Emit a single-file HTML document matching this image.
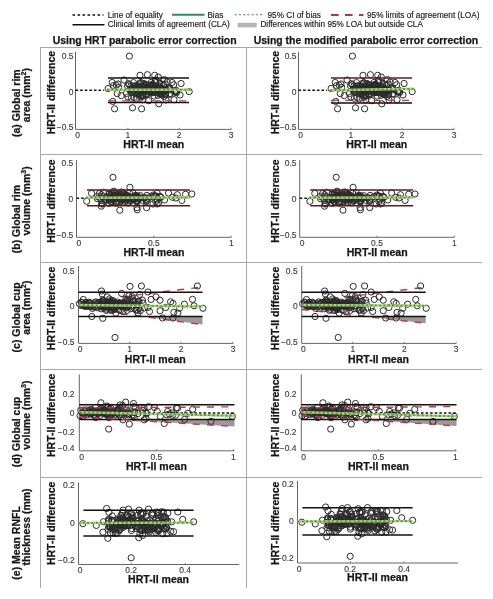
<!DOCTYPE html><html><head><meta charset="utf-8"><style>html,body{margin:0;padding:0;background:#fff;width:493px;height:599px;overflow:hidden}svg{display:block;filter:blur(0.5px)}text{font-family:"Liberation Sans",sans-serif}</style></head><body>
<svg width="493" height="599" viewBox="0 0 493 599">
<g stroke="#a8a8a8" stroke-width="1" fill="none">
<line x1="40" y1="47.5" x2="482" y2="47.5"/>
<line x1="40" y1="154.5" x2="482" y2="154.5"/>
<line x1="40" y1="262.5" x2="482" y2="262.5"/>
<line x1="40" y1="369.5" x2="482" y2="369.5"/>
<line x1="40" y1="477.5" x2="482" y2="477.5"/>
<line x1="40.5" y1="47" x2="40.5" y2="588"/>
<line x1="246.5" y1="47" x2="246.5" y2="588"/>
</g>
<g font-size="8.22" fill="#1a1a1a">
<line x1="72.5" y1="15" x2="103.5" y2="15" stroke="#111" stroke-width="1.6" stroke-dasharray="2.6,2.4"/>
<text stroke="#1a1a1a" stroke-width="0.15" x="107.7" y="17.6">Line of equality</text>
<line x1="172" y1="14.8" x2="204.5" y2="14.8" stroke="#2e8b57" stroke-width="1.9"/>
<text stroke="#1a1a1a" stroke-width="0.15" x="207.4" y="17.6">Bias</text>
<line x1="234.5" y1="14.8" x2="263.5" y2="14.8" stroke="#3a9a6a" stroke-width="1.1" stroke-dasharray="2.3,1.95"/>
<text stroke="#1a1a1a" stroke-width="0.15" x="267.5" y="17.6">95% CI of bias</text>
<line x1="331" y1="15" x2="363.5" y2="15" stroke="#b83444" stroke-width="1.9" stroke-dasharray="7.6,6.4"/>
<text stroke="#1a1a1a" stroke-width="0.15" x="367" y="17.6">95% limits of agreement (LOA)</text>
<line x1="72.5" y1="24.8" x2="104.5" y2="24.8" stroke="#111" stroke-width="1.6"/>
<text stroke="#1a1a1a" stroke-width="0.15" x="107.7" y="27.4">Clinical limits of agreement (CLA)</text>
<rect x="237.7" y="22.8" width="19" height="4.6" fill="#b4b4b4"/>
<text stroke="#1a1a1a" stroke-width="0.15" x="260.4" y="27.4">Differences within 95% LOA but outside CLA</text>
</g>
<g font-size="10.45" font-weight="bold" fill="#161616" stroke="#161616" stroke-width="0.25">
<text x="52.7" y="44.2">Using HRT parabolic error correction</text>
<text x="253.7" y="44.2">Using the modified parabolic error correction</text>
</g>
<text transform="translate(20.2,103.15) rotate(-90)" text-anchor="middle" font-size="10.5" font-weight="bold" fill="#161616" stroke="#161616" stroke-width="0.25">(a) Global rim</text>
<text transform="translate(29.6,95.15) rotate(-90)" text-anchor="middle" font-size="10.5" font-weight="bold" fill="#161616" stroke="#161616" stroke-width="0.25">area (mm<tspan font-size="7" dy="-4">2</tspan><tspan dy="4">)</tspan></text>
<text transform="translate(20.2,219.1) rotate(-90)" text-anchor="middle" font-size="10.5" font-weight="bold" fill="#161616" stroke="#161616" stroke-width="0.25">(b) Global rim</text>
<text transform="translate(29.6,200.95) rotate(-90)" text-anchor="middle" font-size="10.5" font-weight="bold" fill="#161616" stroke="#161616" stroke-width="0.25">volume (mm<tspan font-size="7" dy="-4">3</tspan><tspan dy="4">)</tspan></text>
<text transform="translate(20.2,317.4) rotate(-90)" text-anchor="middle" font-size="10.5" font-weight="bold" fill="#161616" stroke="#161616" stroke-width="0.25">(c) Global cup</text>
<text transform="translate(29.6,307.65) rotate(-90)" text-anchor="middle" font-size="10.5" font-weight="bold" fill="#161616" stroke="#161616" stroke-width="0.25">area (mm<tspan font-size="7" dy="-4">2</tspan><tspan dy="4">)</tspan></text>
<text transform="translate(20.2,432.05) rotate(-90)" text-anchor="middle" font-size="10.5" font-weight="bold" fill="#161616" stroke="#161616" stroke-width="0.25">(d) Global cup</text>
<text transform="translate(29.6,415.15) rotate(-90)" text-anchor="middle" font-size="10.5" font-weight="bold" fill="#161616" stroke="#161616" stroke-width="0.25">volume (mm<tspan font-size="7" dy="-4">3</tspan><tspan dy="4">)</tspan></text>
<text transform="translate(20.2,542.9) rotate(-90)" text-anchor="middle" font-size="10.5" font-weight="bold" fill="#161616" stroke="#161616" stroke-width="0.25">(e) Mean RNFL</text>
<text transform="translate(29.6,526.95) rotate(-90)" text-anchor="middle" font-size="10.5" font-weight="bold" fill="#161616" stroke="#161616" stroke-width="0.25">thickness (mm)</text>
<g>
<text transform="translate(55.2,92.65) rotate(-90)" text-anchor="middle" font-size="10.5" font-weight="bold" fill="#161616" stroke="#161616" stroke-width="0.25">HRT-II difference</text>
<path d="M75.5 51.7 V129.4 H231.1" stroke="#666" stroke-width="1" fill="none"/>
<path d="M127.90 129.4 v-1.6 M179.20 129.4 v-1.6 M231.10 129.4 v-1.6" stroke="#666" stroke-width="0.8" fill="none"/>
<g font-size="8.5" fill="#383838" stroke="#383838" stroke-width="0.12">
<text x="73.50" y="58.55" text-anchor="end">0.5</text>
<text x="73.50" y="94.55" text-anchor="end">0</text>
<text x="73.50" y="129.95" text-anchor="end">−0.5</text>
<text x="77.60" y="138.25" text-anchor="middle">0</text>
<text x="127.90" y="138.25" text-anchor="middle">1</text>
<text x="179.20" y="138.25" text-anchor="middle">2</text>
<text x="231.10" y="138.25" text-anchor="middle">3</text>
</g>
<g fill="none" stroke="#2a2a2a" stroke-width="1.0">
<circle cx="158.1" cy="92.4" r="3.1"/>
<circle cx="152.4" cy="84.6" r="3.1"/>
<circle cx="148.6" cy="86.2" r="3.1"/>
<circle cx="154.6" cy="85.8" r="3.1"/>
<circle cx="161.6" cy="91.3" r="3.1"/>
<circle cx="176.6" cy="91.8" r="3.1"/>
<circle cx="160.3" cy="88.7" r="3.1"/>
<circle cx="142.5" cy="94.7" r="3.1"/>
<circle cx="152.2" cy="91.5" r="3.1"/>
<circle cx="154.2" cy="92.3" r="3.1"/>
<circle cx="128.4" cy="83.7" r="3.1"/>
<circle cx="152.9" cy="87.9" r="3.1"/>
<circle cx="146.3" cy="88.3" r="3.1"/>
<circle cx="162.0" cy="89.7" r="3.1"/>
<circle cx="152.3" cy="85.5" r="3.1"/>
<circle cx="158.1" cy="95.3" r="3.1"/>
<circle cx="157.6" cy="88.4" r="3.1"/>
<circle cx="133.8" cy="91.1" r="3.1"/>
<circle cx="155.1" cy="88.6" r="3.1"/>
<circle cx="135.2" cy="86.4" r="3.1"/>
<circle cx="152.2" cy="85.8" r="3.1"/>
<circle cx="146.0" cy="93.7" r="3.1"/>
<circle cx="139.2" cy="89.1" r="3.1"/>
<circle cx="156.9" cy="87.2" r="3.1"/>
<circle cx="129.8" cy="90.2" r="3.1"/>
<circle cx="159.9" cy="83.4" r="3.1"/>
<circle cx="144.7" cy="87.6" r="3.1"/>
<circle cx="165.1" cy="83.9" r="3.1"/>
<circle cx="145.5" cy="84.3" r="3.1"/>
<circle cx="136.1" cy="89.3" r="3.1"/>
<circle cx="144.1" cy="88.7" r="3.1"/>
<circle cx="139.3" cy="83.9" r="3.1"/>
<circle cx="160.3" cy="94.2" r="3.1"/>
<circle cx="148.3" cy="88.0" r="3.1"/>
<circle cx="165.3" cy="90.9" r="3.1"/>
<circle cx="152.0" cy="92.3" r="3.1"/>
<circle cx="137.4" cy="86.4" r="3.1"/>
<circle cx="149.9" cy="85.5" r="3.1"/>
<circle cx="149.0" cy="90.0" r="3.1"/>
<circle cx="155.9" cy="91.0" r="3.1"/>
<circle cx="131.1" cy="88.8" r="3.1"/>
<circle cx="153.0" cy="92.7" r="3.1"/>
<circle cx="161.2" cy="88.3" r="3.1"/>
<circle cx="146.2" cy="85.3" r="3.1"/>
<circle cx="142.7" cy="86.5" r="3.1"/>
<circle cx="132.1" cy="88.2" r="3.1"/>
<circle cx="161.4" cy="94.5" r="3.1"/>
<circle cx="152.6" cy="88.9" r="3.1"/>
<circle cx="152.9" cy="91.9" r="3.1"/>
<circle cx="155.5" cy="90.6" r="3.1"/>
<circle cx="146.1" cy="88.3" r="3.1"/>
<circle cx="176.5" cy="92.7" r="3.1"/>
<circle cx="137.8" cy="91.9" r="3.1"/>
<circle cx="139.1" cy="90.1" r="3.1"/>
<circle cx="142.4" cy="90.2" r="3.1"/>
<circle cx="142.0" cy="88.4" r="3.1"/>
<circle cx="155.0" cy="91.3" r="3.1"/>
<circle cx="126.4" cy="93.5" r="3.1"/>
<circle cx="142.4" cy="91.1" r="3.1"/>
<circle cx="148.1" cy="87.6" r="3.1"/>
<circle cx="161.9" cy="89.6" r="3.1"/>
<circle cx="148.7" cy="92.1" r="3.1"/>
<circle cx="140.5" cy="96.7" r="3.1"/>
<circle cx="165.3" cy="89.4" r="3.1"/>
<circle cx="150.2" cy="90.0" r="3.1"/>
<circle cx="158.8" cy="90.9" r="3.1"/>
<circle cx="139.5" cy="86.1" r="3.1"/>
<circle cx="163.5" cy="84.9" r="3.1"/>
<circle cx="139.2" cy="93.4" r="3.1"/>
<circle cx="131.8" cy="91.4" r="3.1"/>
<circle cx="166.5" cy="90.2" r="3.1"/>
<circle cx="137.1" cy="94.2" r="3.1"/>
<circle cx="165.7" cy="94.9" r="3.1"/>
<circle cx="169.6" cy="89.7" r="3.1"/>
<circle cx="145.9" cy="86.0" r="3.1"/>
<circle cx="155.4" cy="92.4" r="3.1"/>
<circle cx="142.2" cy="90.3" r="3.1"/>
<circle cx="162.2" cy="94.8" r="3.1"/>
<circle cx="140.9" cy="88.8" r="3.1"/>
<circle cx="138.0" cy="86.4" r="3.1"/>
<circle cx="160.4" cy="92.8" r="3.1"/>
<circle cx="145.0" cy="88.8" r="3.1"/>
<circle cx="142.5" cy="95.7" r="3.1"/>
<circle cx="142.5" cy="88.5" r="3.1"/>
<circle cx="139.6" cy="91.8" r="3.1"/>
<circle cx="143.8" cy="83.5" r="3.1"/>
<circle cx="153.2" cy="90.1" r="3.1"/>
<circle cx="147.7" cy="89.8" r="3.1"/>
<circle cx="153.2" cy="90.9" r="3.1"/>
<circle cx="164.3" cy="92.0" r="3.1"/>
<circle cx="162.8" cy="91.9" r="3.1"/>
<circle cx="156.5" cy="89.2" r="3.1"/>
<circle cx="150.9" cy="85.4" r="3.1"/>
<circle cx="164.1" cy="96.5" r="3.1"/>
<circle cx="149.0" cy="86.5" r="3.1"/>
<circle cx="154.3" cy="88.6" r="3.1"/>
<circle cx="161.6" cy="84.3" r="3.1"/>
<circle cx="169.9" cy="94.3" r="3.1"/>
<circle cx="155.6" cy="82.7" r="3.1"/>
<circle cx="146.1" cy="94.7" r="3.1"/>
<circle cx="152.1" cy="86.7" r="3.1"/>
<circle cx="152.0" cy="89.7" r="3.1"/>
<circle cx="134.9" cy="89.4" r="3.1"/>
<circle cx="162.0" cy="92.8" r="3.1"/>
<circle cx="163.0" cy="90.8" r="3.1"/>
<circle cx="141.9" cy="89.5" r="3.1"/>
<circle cx="174.8" cy="91.6" r="3.1"/>
<circle cx="159.6" cy="86.2" r="3.1"/>
<circle cx="164.4" cy="90.3" r="3.1"/>
<circle cx="169.9" cy="88.3" r="3.1"/>
<circle cx="148.7" cy="88.8" r="3.1"/>
<circle cx="142.3" cy="88.5" r="3.1"/>
<circle cx="151.8" cy="89.6" r="3.1"/>
<circle cx="154.2" cy="96.1" r="3.1"/>
<circle cx="157.4" cy="91.5" r="3.1"/>
<circle cx="141.4" cy="95.8" r="3.1"/>
<circle cx="140.7" cy="82.6" r="3.1"/>
<circle cx="151.8" cy="90.9" r="3.1"/>
<circle cx="138.7" cy="94.1" r="3.1"/>
<circle cx="129.4" cy="84.5" r="3.1"/>
<circle cx="148.9" cy="88.3" r="3.1"/>
<circle cx="146.8" cy="91.6" r="3.1"/>
<circle cx="148.0" cy="94.3" r="3.1"/>
<circle cx="131.1" cy="91.5" r="3.1"/>
<circle cx="176.1" cy="90.3" r="3.1"/>
<circle cx="160.4" cy="94.1" r="3.1"/>
<circle cx="152.0" cy="88.8" r="3.1"/>
<circle cx="164.1" cy="89.8" r="3.1"/>
<circle cx="139.5" cy="91.0" r="3.1"/>
<circle cx="152.6" cy="91.5" r="3.1"/>
<circle cx="149.2" cy="91.8" r="3.1"/>
<circle cx="143.0" cy="96.2" r="3.1"/>
<circle cx="158.8" cy="88.8" r="3.1"/>
<circle cx="159.3" cy="90.0" r="3.1"/>
<circle cx="154.6" cy="88.0" r="3.1"/>
<circle cx="143.8" cy="87.3" r="3.1"/>
<circle cx="141.4" cy="92.5" r="3.1"/>
<circle cx="135.1" cy="85.7" r="3.1"/>
<circle cx="151.2" cy="82.4" r="3.1"/>
<circle cx="144.9" cy="90.3" r="3.1"/>
<circle cx="150.7" cy="88.2" r="3.1"/>
<circle cx="152.3" cy="84.2" r="3.1"/>
<circle cx="160.6" cy="87.6" r="3.1"/>
<circle cx="127.5" cy="85.8" r="3.1"/>
<circle cx="145.3" cy="84.7" r="3.1"/>
<circle cx="135.2" cy="92.8" r="3.1"/>
<circle cx="173.7" cy="84.8" r="3.1"/>
<circle cx="131.4" cy="98.3" r="3.1"/>
<circle cx="138.0" cy="86.6" r="3.1"/>
<circle cx="139.8" cy="89.6" r="3.1"/>
<circle cx="149.7" cy="91.9" r="3.1"/>
<circle cx="169.8" cy="93.6" r="3.1"/>
<circle cx="164.4" cy="79.6" r="3.1"/>
<circle cx="134.0" cy="97.5" r="3.1"/>
<circle cx="131.1" cy="85.7" r="3.1"/>
<circle cx="140.8" cy="82.9" r="3.1"/>
<circle cx="167.2" cy="82.0" r="3.1"/>
<circle cx="112.8" cy="101.4" r="3.1"/>
<circle cx="143.8" cy="90.6" r="3.1"/>
<circle cx="118.7" cy="87.4" r="3.1"/>
<circle cx="145.3" cy="87.0" r="3.1"/>
<circle cx="155.2" cy="81.5" r="3.1"/>
<circle cx="168.1" cy="88.1" r="3.1"/>
<circle cx="142.6" cy="99.7" r="3.1"/>
<circle cx="113.5" cy="85.6" r="3.1"/>
<circle cx="174.4" cy="92.0" r="3.1"/>
<circle cx="157.6" cy="87.6" r="3.1"/>
<circle cx="165.6" cy="93.4" r="3.1"/>
<circle cx="133.5" cy="82.6" r="3.1"/>
<circle cx="131.9" cy="88.6" r="3.1"/>
<circle cx="130.0" cy="89.4" r="3.1"/>
<circle cx="159.0" cy="88.9" r="3.1"/>
<circle cx="116.2" cy="85.2" r="3.1"/>
<circle cx="155.5" cy="80.0" r="3.1"/>
<circle cx="139.8" cy="83.6" r="3.1"/>
<circle cx="129.4" cy="56.1" r="3.1"/>
<circle cx="140.0" cy="75.3" r="3.1"/>
<circle cx="147.4" cy="74.7" r="3.1"/>
<circle cx="154.7" cy="75.3" r="3.1"/>
<circle cx="158.3" cy="77.1" r="3.1"/>
<circle cx="112.2" cy="82.5" r="3.1"/>
<circle cx="108.1" cy="88.5" r="3.1"/>
<circle cx="117.2" cy="93.6" r="3.1"/>
<circle cx="121.3" cy="95.6" r="3.1"/>
<circle cx="181.1" cy="83.5" r="3.1"/>
<circle cx="189.2" cy="91.6" r="3.1"/>
<circle cx="172.0" cy="82.5" r="3.1"/>
<circle cx="114.6" cy="108.8" r="3.1"/>
<circle cx="132.5" cy="107.8" r="3.1"/>
<circle cx="141.6" cy="108.8" r="3.1"/>
<circle cx="158.8" cy="103.8" r="3.1"/>
<circle cx="174.0" cy="99.7" r="3.1"/>
<circle cx="148.7" cy="100.7" r="3.1"/>
<circle cx="118.0" cy="84.0" r="3.1"/>
<circle cx="124.0" cy="80.0" r="3.1"/>
<circle cx="166.0" cy="100.0" r="3.1"/>
<circle cx="180.0" cy="95.0" r="3.1"/>
<circle cx="136.0" cy="99.0" r="3.1"/>
<circle cx="128.0" cy="97.0" r="3.1"/>
</g>
<path d="M108 78.1 H189" stroke="#111" stroke-width="1.5" fill="none"/>
<path d="M108 102.4 H189" stroke="#111" stroke-width="1.5" fill="none"/>
<line x1="108" y1="100.9" x2="189" y2="100.9" stroke="#c03844" stroke-width="1.4" stroke-dasharray="7,7.2"/>
<line x1="75.5" y1="90.3" x2="104" y2="90.3" stroke="#111" stroke-width="1.5" stroke-dasharray="2.6,2"/>
<line x1="107" y1="89.7" x2="191" y2="89.7" stroke="#acd47a" stroke-width="2.4"/>
<line x1="107" y1="89.7" x2="191" y2="89.7" stroke="#55923a" stroke-width="1.7" stroke-dasharray="2,2.3"/>
<text x="153.75" y="148.2" text-anchor="middle" font-size="10.55" font-weight="bold" fill="#161616" stroke="#161616" stroke-width="0.25">HRT-II mean</text>
</g>
<g transform="translate(223,0)">
<text transform="translate(56.30000000000001,92.65) rotate(-90)" text-anchor="middle" font-size="10.5" font-weight="bold" fill="#161616" stroke="#161616" stroke-width="0.25">HRT-II difference</text>
<path d="M75.5 51.7 V129.4 H231.1" stroke="#666" stroke-width="1" fill="none"/>
<path d="M127.90 129.4 v-1.6 M179.20 129.4 v-1.6 M231.10 129.4 v-1.6" stroke="#666" stroke-width="0.8" fill="none"/>
<g font-size="8.5" fill="#383838" stroke="#383838" stroke-width="0.12">
<text x="73.50" y="58.55" text-anchor="end">0.5</text>
<text x="73.50" y="94.55" text-anchor="end">0</text>
<text x="73.50" y="129.95" text-anchor="end">−0.5</text>
<text x="77.60" y="138.25" text-anchor="middle">0</text>
<text x="127.90" y="138.25" text-anchor="middle">1</text>
<text x="179.20" y="138.25" text-anchor="middle">2</text>
<text x="231.10" y="138.25" text-anchor="middle">3</text>
</g>
<g fill="none" stroke="#2a2a2a" stroke-width="1.0">
<circle cx="158.1" cy="92.4" r="3.1"/>
<circle cx="152.4" cy="84.6" r="3.1"/>
<circle cx="148.6" cy="86.2" r="3.1"/>
<circle cx="154.6" cy="85.8" r="3.1"/>
<circle cx="161.6" cy="91.3" r="3.1"/>
<circle cx="176.6" cy="91.8" r="3.1"/>
<circle cx="160.3" cy="88.7" r="3.1"/>
<circle cx="142.5" cy="94.7" r="3.1"/>
<circle cx="152.2" cy="91.5" r="3.1"/>
<circle cx="154.2" cy="92.3" r="3.1"/>
<circle cx="128.4" cy="83.7" r="3.1"/>
<circle cx="152.9" cy="87.9" r="3.1"/>
<circle cx="146.3" cy="88.3" r="3.1"/>
<circle cx="162.0" cy="89.7" r="3.1"/>
<circle cx="152.3" cy="85.5" r="3.1"/>
<circle cx="158.1" cy="95.3" r="3.1"/>
<circle cx="157.6" cy="88.4" r="3.1"/>
<circle cx="133.8" cy="91.1" r="3.1"/>
<circle cx="155.1" cy="88.6" r="3.1"/>
<circle cx="135.2" cy="86.4" r="3.1"/>
<circle cx="152.2" cy="85.8" r="3.1"/>
<circle cx="146.0" cy="93.7" r="3.1"/>
<circle cx="139.2" cy="89.1" r="3.1"/>
<circle cx="156.9" cy="87.2" r="3.1"/>
<circle cx="129.8" cy="90.2" r="3.1"/>
<circle cx="159.9" cy="83.4" r="3.1"/>
<circle cx="144.7" cy="87.6" r="3.1"/>
<circle cx="165.1" cy="83.9" r="3.1"/>
<circle cx="145.5" cy="84.3" r="3.1"/>
<circle cx="136.1" cy="89.3" r="3.1"/>
<circle cx="144.1" cy="88.7" r="3.1"/>
<circle cx="139.3" cy="83.9" r="3.1"/>
<circle cx="160.3" cy="94.2" r="3.1"/>
<circle cx="148.3" cy="88.0" r="3.1"/>
<circle cx="165.3" cy="90.9" r="3.1"/>
<circle cx="152.0" cy="92.3" r="3.1"/>
<circle cx="137.4" cy="86.4" r="3.1"/>
<circle cx="149.9" cy="85.5" r="3.1"/>
<circle cx="149.0" cy="90.0" r="3.1"/>
<circle cx="155.9" cy="91.0" r="3.1"/>
<circle cx="131.1" cy="88.8" r="3.1"/>
<circle cx="153.0" cy="92.7" r="3.1"/>
<circle cx="161.2" cy="88.3" r="3.1"/>
<circle cx="146.2" cy="85.3" r="3.1"/>
<circle cx="142.7" cy="86.5" r="3.1"/>
<circle cx="132.1" cy="88.2" r="3.1"/>
<circle cx="161.4" cy="94.5" r="3.1"/>
<circle cx="152.6" cy="88.9" r="3.1"/>
<circle cx="152.9" cy="91.9" r="3.1"/>
<circle cx="155.5" cy="90.6" r="3.1"/>
<circle cx="146.1" cy="88.3" r="3.1"/>
<circle cx="176.5" cy="92.7" r="3.1"/>
<circle cx="137.8" cy="91.9" r="3.1"/>
<circle cx="139.1" cy="90.1" r="3.1"/>
<circle cx="142.4" cy="90.2" r="3.1"/>
<circle cx="142.0" cy="88.4" r="3.1"/>
<circle cx="155.0" cy="91.3" r="3.1"/>
<circle cx="126.4" cy="93.5" r="3.1"/>
<circle cx="142.4" cy="91.1" r="3.1"/>
<circle cx="148.1" cy="87.6" r="3.1"/>
<circle cx="161.9" cy="89.6" r="3.1"/>
<circle cx="148.7" cy="92.1" r="3.1"/>
<circle cx="140.5" cy="96.7" r="3.1"/>
<circle cx="165.3" cy="89.4" r="3.1"/>
<circle cx="150.2" cy="90.0" r="3.1"/>
<circle cx="158.8" cy="90.9" r="3.1"/>
<circle cx="139.5" cy="86.1" r="3.1"/>
<circle cx="163.5" cy="84.9" r="3.1"/>
<circle cx="139.2" cy="93.4" r="3.1"/>
<circle cx="131.8" cy="91.4" r="3.1"/>
<circle cx="166.5" cy="90.2" r="3.1"/>
<circle cx="137.1" cy="94.2" r="3.1"/>
<circle cx="165.7" cy="94.9" r="3.1"/>
<circle cx="169.6" cy="89.7" r="3.1"/>
<circle cx="145.9" cy="86.0" r="3.1"/>
<circle cx="155.4" cy="92.4" r="3.1"/>
<circle cx="142.2" cy="90.3" r="3.1"/>
<circle cx="162.2" cy="94.8" r="3.1"/>
<circle cx="140.9" cy="88.8" r="3.1"/>
<circle cx="138.0" cy="86.4" r="3.1"/>
<circle cx="160.4" cy="92.8" r="3.1"/>
<circle cx="145.0" cy="88.8" r="3.1"/>
<circle cx="142.5" cy="95.7" r="3.1"/>
<circle cx="142.5" cy="88.5" r="3.1"/>
<circle cx="139.6" cy="91.8" r="3.1"/>
<circle cx="143.8" cy="83.5" r="3.1"/>
<circle cx="153.2" cy="90.1" r="3.1"/>
<circle cx="147.7" cy="89.8" r="3.1"/>
<circle cx="153.2" cy="90.9" r="3.1"/>
<circle cx="164.3" cy="92.0" r="3.1"/>
<circle cx="162.8" cy="91.9" r="3.1"/>
<circle cx="156.5" cy="89.2" r="3.1"/>
<circle cx="150.9" cy="85.4" r="3.1"/>
<circle cx="164.1" cy="96.5" r="3.1"/>
<circle cx="149.0" cy="86.5" r="3.1"/>
<circle cx="154.3" cy="88.6" r="3.1"/>
<circle cx="161.6" cy="84.3" r="3.1"/>
<circle cx="169.9" cy="94.3" r="3.1"/>
<circle cx="155.6" cy="82.7" r="3.1"/>
<circle cx="146.1" cy="94.7" r="3.1"/>
<circle cx="152.1" cy="86.7" r="3.1"/>
<circle cx="152.0" cy="89.7" r="3.1"/>
<circle cx="134.9" cy="89.4" r="3.1"/>
<circle cx="162.0" cy="92.8" r="3.1"/>
<circle cx="163.0" cy="90.8" r="3.1"/>
<circle cx="141.9" cy="89.5" r="3.1"/>
<circle cx="174.8" cy="91.6" r="3.1"/>
<circle cx="159.6" cy="86.2" r="3.1"/>
<circle cx="164.4" cy="90.3" r="3.1"/>
<circle cx="169.9" cy="88.3" r="3.1"/>
<circle cx="148.7" cy="88.8" r="3.1"/>
<circle cx="142.3" cy="88.5" r="3.1"/>
<circle cx="151.8" cy="89.6" r="3.1"/>
<circle cx="154.2" cy="96.1" r="3.1"/>
<circle cx="157.4" cy="91.5" r="3.1"/>
<circle cx="141.4" cy="95.8" r="3.1"/>
<circle cx="140.7" cy="82.6" r="3.1"/>
<circle cx="151.8" cy="90.9" r="3.1"/>
<circle cx="138.7" cy="94.1" r="3.1"/>
<circle cx="129.4" cy="84.5" r="3.1"/>
<circle cx="148.9" cy="88.3" r="3.1"/>
<circle cx="146.8" cy="91.6" r="3.1"/>
<circle cx="148.0" cy="94.3" r="3.1"/>
<circle cx="131.1" cy="91.5" r="3.1"/>
<circle cx="176.1" cy="90.3" r="3.1"/>
<circle cx="160.4" cy="94.1" r="3.1"/>
<circle cx="152.0" cy="88.8" r="3.1"/>
<circle cx="164.1" cy="89.8" r="3.1"/>
<circle cx="139.5" cy="91.0" r="3.1"/>
<circle cx="152.6" cy="91.5" r="3.1"/>
<circle cx="149.2" cy="91.8" r="3.1"/>
<circle cx="143.0" cy="96.2" r="3.1"/>
<circle cx="158.8" cy="88.8" r="3.1"/>
<circle cx="159.3" cy="90.0" r="3.1"/>
<circle cx="154.6" cy="88.0" r="3.1"/>
<circle cx="143.8" cy="87.3" r="3.1"/>
<circle cx="141.4" cy="92.5" r="3.1"/>
<circle cx="135.1" cy="85.7" r="3.1"/>
<circle cx="151.2" cy="82.4" r="3.1"/>
<circle cx="144.9" cy="90.3" r="3.1"/>
<circle cx="150.7" cy="88.2" r="3.1"/>
<circle cx="152.3" cy="84.2" r="3.1"/>
<circle cx="160.6" cy="87.6" r="3.1"/>
<circle cx="127.5" cy="85.8" r="3.1"/>
<circle cx="145.3" cy="84.7" r="3.1"/>
<circle cx="135.2" cy="92.8" r="3.1"/>
<circle cx="173.7" cy="84.8" r="3.1"/>
<circle cx="131.4" cy="98.3" r="3.1"/>
<circle cx="138.0" cy="86.6" r="3.1"/>
<circle cx="139.8" cy="89.6" r="3.1"/>
<circle cx="149.7" cy="91.9" r="3.1"/>
<circle cx="169.8" cy="93.6" r="3.1"/>
<circle cx="164.4" cy="79.6" r="3.1"/>
<circle cx="134.0" cy="97.5" r="3.1"/>
<circle cx="131.1" cy="85.7" r="3.1"/>
<circle cx="140.8" cy="82.9" r="3.1"/>
<circle cx="167.2" cy="82.0" r="3.1"/>
<circle cx="112.8" cy="101.4" r="3.1"/>
<circle cx="143.8" cy="90.6" r="3.1"/>
<circle cx="118.7" cy="87.4" r="3.1"/>
<circle cx="145.3" cy="87.0" r="3.1"/>
<circle cx="155.2" cy="81.5" r="3.1"/>
<circle cx="168.1" cy="88.1" r="3.1"/>
<circle cx="142.6" cy="99.7" r="3.1"/>
<circle cx="113.5" cy="85.6" r="3.1"/>
<circle cx="174.4" cy="92.0" r="3.1"/>
<circle cx="157.6" cy="87.6" r="3.1"/>
<circle cx="165.6" cy="93.4" r="3.1"/>
<circle cx="133.5" cy="82.6" r="3.1"/>
<circle cx="131.9" cy="88.6" r="3.1"/>
<circle cx="130.0" cy="89.4" r="3.1"/>
<circle cx="159.0" cy="88.9" r="3.1"/>
<circle cx="116.2" cy="85.2" r="3.1"/>
<circle cx="155.5" cy="80.0" r="3.1"/>
<circle cx="139.8" cy="83.6" r="3.1"/>
<circle cx="129.4" cy="56.1" r="3.1"/>
<circle cx="140.0" cy="75.3" r="3.1"/>
<circle cx="147.4" cy="74.7" r="3.1"/>
<circle cx="154.7" cy="75.3" r="3.1"/>
<circle cx="158.3" cy="77.1" r="3.1"/>
<circle cx="112.2" cy="82.5" r="3.1"/>
<circle cx="108.1" cy="88.5" r="3.1"/>
<circle cx="117.2" cy="93.6" r="3.1"/>
<circle cx="121.3" cy="95.6" r="3.1"/>
<circle cx="181.1" cy="83.5" r="3.1"/>
<circle cx="189.2" cy="91.6" r="3.1"/>
<circle cx="172.0" cy="82.5" r="3.1"/>
<circle cx="114.6" cy="108.8" r="3.1"/>
<circle cx="132.5" cy="107.8" r="3.1"/>
<circle cx="141.6" cy="108.8" r="3.1"/>
<circle cx="158.8" cy="103.8" r="3.1"/>
<circle cx="174.0" cy="99.7" r="3.1"/>
<circle cx="148.7" cy="100.7" r="3.1"/>
<circle cx="118.0" cy="84.0" r="3.1"/>
<circle cx="124.0" cy="80.0" r="3.1"/>
<circle cx="166.0" cy="100.0" r="3.1"/>
<circle cx="180.0" cy="95.0" r="3.1"/>
<circle cx="136.0" cy="99.0" r="3.1"/>
<circle cx="128.0" cy="97.0" r="3.1"/>
</g>
<path d="M108 78.1 H189" stroke="#5e1c22" stroke-width="1.5" fill="none"/>
<path d="M108 103.0 H189" stroke="#111" stroke-width="1.5" fill="none"/>
<line x1="108" y1="100.4" x2="189" y2="100.4" stroke="#c03844" stroke-width="1.4" stroke-dasharray="7,7.2"/>
<line x1="75.5" y1="90.3" x2="104" y2="90.3" stroke="#111" stroke-width="1.5" stroke-dasharray="2.6,2"/>
<line x1="107" y1="90.3" x2="191" y2="88.8" stroke="#acd47a" stroke-width="2.4"/>
<line x1="107" y1="90.3" x2="191" y2="88.8" stroke="#55923a" stroke-width="1.7" stroke-dasharray="2,2.3"/>
<text x="153.75" y="148.2" text-anchor="middle" font-size="10.55" font-weight="bold" fill="#161616" stroke="#161616" stroke-width="0.25">HRT-II mean</text>
</g>
<g>
<text transform="translate(55.2,201.05) rotate(-90)" text-anchor="middle" font-size="10.5" font-weight="bold" fill="#161616" stroke="#161616" stroke-width="0.25">HRT-II difference</text>
<path d="M76.5 160.1 V237.3 H231.3" stroke="#666" stroke-width="1" fill="none"/>
<path d="M153.80 237.3 v-1.6 M231.30 237.3 v-1.6" stroke="#666" stroke-width="0.8" fill="none"/>
<g font-size="8.5" fill="#383838" stroke="#383838" stroke-width="0.12">
<text x="73.30" y="166.20" text-anchor="end">0.5</text>
<text x="73.30" y="201.65" text-anchor="end">0</text>
<text x="73.30" y="238.05" text-anchor="end">−0.5</text>
<text x="78.90" y="246.15" text-anchor="middle">0</text>
<text x="153.80" y="246.15" text-anchor="middle">0.5</text>
<text x="231.30" y="246.15" text-anchor="middle">1</text>
</g>
<g fill="none" stroke="#2a2a2a" stroke-width="1.0">
<circle cx="112.2" cy="196.8" r="3.1"/>
<circle cx="159.7" cy="196.3" r="3.1"/>
<circle cx="97.4" cy="198.7" r="3.1"/>
<circle cx="124.7" cy="199.9" r="3.1"/>
<circle cx="115.7" cy="202.3" r="3.1"/>
<circle cx="132.1" cy="198.6" r="3.1"/>
<circle cx="146.7" cy="200.5" r="3.1"/>
<circle cx="109.2" cy="200.3" r="3.1"/>
<circle cx="110.9" cy="201.6" r="3.1"/>
<circle cx="112.4" cy="199.0" r="3.1"/>
<circle cx="108.9" cy="198.9" r="3.1"/>
<circle cx="146.3" cy="201.4" r="3.1"/>
<circle cx="111.3" cy="193.8" r="3.1"/>
<circle cx="134.6" cy="195.8" r="3.1"/>
<circle cx="109.1" cy="200.0" r="3.1"/>
<circle cx="101.1" cy="200.3" r="3.1"/>
<circle cx="141.0" cy="197.9" r="3.1"/>
<circle cx="106.7" cy="197.2" r="3.1"/>
<circle cx="148.3" cy="198.4" r="3.1"/>
<circle cx="143.9" cy="198.0" r="3.1"/>
<circle cx="124.6" cy="198.5" r="3.1"/>
<circle cx="124.6" cy="198.8" r="3.1"/>
<circle cx="137.1" cy="201.5" r="3.1"/>
<circle cx="119.8" cy="195.0" r="3.1"/>
<circle cx="110.9" cy="195.0" r="3.1"/>
<circle cx="109.1" cy="203.4" r="3.1"/>
<circle cx="112.7" cy="193.6" r="3.1"/>
<circle cx="129.1" cy="197.8" r="3.1"/>
<circle cx="137.3" cy="198.4" r="3.1"/>
<circle cx="154.7" cy="195.8" r="3.1"/>
<circle cx="126.5" cy="196.5" r="3.1"/>
<circle cx="113.9" cy="192.8" r="3.1"/>
<circle cx="133.0" cy="192.8" r="3.1"/>
<circle cx="128.8" cy="199.3" r="3.1"/>
<circle cx="129.4" cy="193.1" r="3.1"/>
<circle cx="136.4" cy="195.8" r="3.1"/>
<circle cx="129.2" cy="196.7" r="3.1"/>
<circle cx="156.0" cy="196.1" r="3.1"/>
<circle cx="118.7" cy="198.8" r="3.1"/>
<circle cx="97.2" cy="196.4" r="3.1"/>
<circle cx="118.6" cy="198.6" r="3.1"/>
<circle cx="116.3" cy="203.3" r="3.1"/>
<circle cx="155.7" cy="201.6" r="3.1"/>
<circle cx="122.0" cy="199.8" r="3.1"/>
<circle cx="158.5" cy="203.3" r="3.1"/>
<circle cx="134.1" cy="196.3" r="3.1"/>
<circle cx="142.4" cy="200.3" r="3.1"/>
<circle cx="124.0" cy="197.5" r="3.1"/>
<circle cx="99.5" cy="193.4" r="3.1"/>
<circle cx="100.7" cy="198.8" r="3.1"/>
<circle cx="126.2" cy="195.7" r="3.1"/>
<circle cx="118.4" cy="202.2" r="3.1"/>
<circle cx="102.1" cy="196.6" r="3.1"/>
<circle cx="101.8" cy="203.9" r="3.1"/>
<circle cx="115.9" cy="202.2" r="3.1"/>
<circle cx="135.5" cy="195.9" r="3.1"/>
<circle cx="133.3" cy="198.5" r="3.1"/>
<circle cx="130.8" cy="198.5" r="3.1"/>
<circle cx="133.3" cy="199.7" r="3.1"/>
<circle cx="109.3" cy="200.2" r="3.1"/>
<circle cx="109.0" cy="193.9" r="3.1"/>
<circle cx="115.8" cy="195.2" r="3.1"/>
<circle cx="110.8" cy="194.6" r="3.1"/>
<circle cx="136.9" cy="200.5" r="3.1"/>
<circle cx="111.4" cy="201.9" r="3.1"/>
<circle cx="120.8" cy="195.6" r="3.1"/>
<circle cx="104.8" cy="199.1" r="3.1"/>
<circle cx="120.6" cy="198.6" r="3.1"/>
<circle cx="120.8" cy="194.6" r="3.1"/>
<circle cx="115.3" cy="195.7" r="3.1"/>
<circle cx="124.8" cy="194.5" r="3.1"/>
<circle cx="160.2" cy="197.1" r="3.1"/>
<circle cx="138.4" cy="198.9" r="3.1"/>
<circle cx="109.0" cy="198.5" r="3.1"/>
<circle cx="115.0" cy="196.7" r="3.1"/>
<circle cx="121.4" cy="191.9" r="3.1"/>
<circle cx="146.2" cy="199.5" r="3.1"/>
<circle cx="119.6" cy="202.1" r="3.1"/>
<circle cx="126.6" cy="195.2" r="3.1"/>
<circle cx="120.8" cy="196.1" r="3.1"/>
<circle cx="118.0" cy="194.8" r="3.1"/>
<circle cx="120.8" cy="200.0" r="3.1"/>
<circle cx="128.3" cy="203.0" r="3.1"/>
<circle cx="132.2" cy="199.0" r="3.1"/>
<circle cx="125.5" cy="199.4" r="3.1"/>
<circle cx="119.2" cy="193.8" r="3.1"/>
<circle cx="103.4" cy="192.3" r="3.1"/>
<circle cx="117.5" cy="198.1" r="3.1"/>
<circle cx="129.6" cy="201.2" r="3.1"/>
<circle cx="113.8" cy="191.2" r="3.1"/>
<circle cx="109.8" cy="197.6" r="3.1"/>
<circle cx="102.4" cy="203.8" r="3.1"/>
<circle cx="140.3" cy="195.6" r="3.1"/>
<circle cx="113.1" cy="198.0" r="3.1"/>
<circle cx="125.8" cy="198.4" r="3.1"/>
<circle cx="101.5" cy="194.7" r="3.1"/>
<circle cx="145.1" cy="197.6" r="3.1"/>
<circle cx="139.3" cy="197.7" r="3.1"/>
<circle cx="126.0" cy="198.6" r="3.1"/>
<circle cx="117.0" cy="201.4" r="3.1"/>
<circle cx="136.2" cy="197.6" r="3.1"/>
<circle cx="124.5" cy="202.6" r="3.1"/>
<circle cx="105.4" cy="200.3" r="3.1"/>
<circle cx="141.3" cy="202.6" r="3.1"/>
<circle cx="146.9" cy="195.4" r="3.1"/>
<circle cx="136.1" cy="196.7" r="3.1"/>
<circle cx="136.2" cy="198.3" r="3.1"/>
<circle cx="137.3" cy="195.8" r="3.1"/>
<circle cx="125.0" cy="199.4" r="3.1"/>
<circle cx="131.4" cy="200.6" r="3.1"/>
<circle cx="153.5" cy="195.0" r="3.1"/>
<circle cx="123.4" cy="192.8" r="3.1"/>
<circle cx="132.7" cy="202.6" r="3.1"/>
<circle cx="125.4" cy="201.4" r="3.1"/>
<circle cx="157.1" cy="199.1" r="3.1"/>
<circle cx="137.8" cy="200.7" r="3.1"/>
<circle cx="109.2" cy="194.1" r="3.1"/>
<circle cx="115.3" cy="195.2" r="3.1"/>
<circle cx="125.4" cy="197.0" r="3.1"/>
<circle cx="118.5" cy="196.6" r="3.1"/>
<circle cx="113.3" cy="195.3" r="3.1"/>
<circle cx="125.1" cy="197.1" r="3.1"/>
<circle cx="126.8" cy="197.5" r="3.1"/>
<circle cx="123.1" cy="197.9" r="3.1"/>
<circle cx="157.1" cy="204.0" r="3.1"/>
<circle cx="164.5" cy="200.0" r="3.1"/>
<circle cx="150.6" cy="196.5" r="3.1"/>
<circle cx="160.8" cy="197.3" r="3.1"/>
<circle cx="177.3" cy="194.7" r="3.1"/>
<circle cx="154.5" cy="196.5" r="3.1"/>
<circle cx="123.3" cy="194.8" r="3.1"/>
<circle cx="157.2" cy="193.2" r="3.1"/>
<circle cx="172.5" cy="197.3" r="3.1"/>
<circle cx="125.5" cy="198.6" r="3.1"/>
<circle cx="135.9" cy="196.8" r="3.1"/>
<circle cx="153.0" cy="204.0" r="3.1"/>
<circle cx="112.9" cy="198.2" r="3.1"/>
<circle cx="113.0" cy="177.3" r="3.1"/>
<circle cx="119.8" cy="210.2" r="3.1"/>
<circle cx="136.9" cy="207.7" r="3.1"/>
<circle cx="146.6" cy="207.7" r="3.1"/>
<circle cx="101.3" cy="206.2" r="3.1"/>
<circle cx="137.2" cy="209.8" r="3.1"/>
<circle cx="129.9" cy="187.3" r="3.1"/>
<circle cx="91.6" cy="193.4" r="3.1"/>
<circle cx="86.7" cy="201.3" r="3.1"/>
<circle cx="168.5" cy="193.1" r="3.1"/>
<circle cx="175.8" cy="198.0" r="3.1"/>
<circle cx="185.5" cy="194.3" r="3.1"/>
<circle cx="181.9" cy="200.4" r="3.1"/>
<circle cx="191.8" cy="194.0" r="3.1"/>
</g>
<path d="M87 190 H190" stroke="#5e1c22" stroke-width="1.5" fill="none"/>
<path d="M87 205.8 H190" stroke="#5e1c22" stroke-width="1.5" fill="none"/>
<line x1="76.5" y1="198.2" x2="87" y2="198.2" stroke="#111" stroke-width="1.5" stroke-dasharray="2.6,2"/>
<line x1="86" y1="197.7" x2="190" y2="197.5" stroke="#acd47a" stroke-width="2.4"/>
<line x1="86" y1="197.7" x2="190" y2="197.5" stroke="#55923a" stroke-width="1.7" stroke-dasharray="2,2.3"/>
<text x="153.95" y="256" text-anchor="middle" font-size="10.55" font-weight="bold" fill="#161616" stroke="#161616" stroke-width="0.25">HRT-II mean</text>
</g>
<g transform="translate(223.2,0)">
<text transform="translate(56.10000000000002,201.05) rotate(-90)" text-anchor="middle" font-size="10.5" font-weight="bold" fill="#161616" stroke="#161616" stroke-width="0.25">HRT-II difference</text>
<path d="M76.5 160.1 V237.3 H231.3" stroke="#666" stroke-width="1" fill="none"/>
<path d="M153.80 237.3 v-1.6 M231.30 237.3 v-1.6" stroke="#666" stroke-width="0.8" fill="none"/>
<g font-size="8.5" fill="#383838" stroke="#383838" stroke-width="0.12">
<text x="73.30" y="166.20" text-anchor="end">0.5</text>
<text x="73.30" y="201.65" text-anchor="end">0</text>
<text x="73.30" y="238.05" text-anchor="end">−0.5</text>
<text x="78.90" y="246.15" text-anchor="middle">0</text>
<text x="153.80" y="246.15" text-anchor="middle">0.5</text>
<text x="231.30" y="246.15" text-anchor="middle">1</text>
</g>
<g fill="none" stroke="#2a2a2a" stroke-width="1.0">
<circle cx="112.2" cy="196.8" r="3.1"/>
<circle cx="159.7" cy="196.3" r="3.1"/>
<circle cx="97.4" cy="198.7" r="3.1"/>
<circle cx="124.7" cy="199.9" r="3.1"/>
<circle cx="115.7" cy="202.3" r="3.1"/>
<circle cx="132.1" cy="198.6" r="3.1"/>
<circle cx="146.7" cy="200.5" r="3.1"/>
<circle cx="109.2" cy="200.3" r="3.1"/>
<circle cx="110.9" cy="201.6" r="3.1"/>
<circle cx="112.4" cy="199.0" r="3.1"/>
<circle cx="108.9" cy="198.9" r="3.1"/>
<circle cx="146.3" cy="201.4" r="3.1"/>
<circle cx="111.3" cy="193.8" r="3.1"/>
<circle cx="134.6" cy="195.8" r="3.1"/>
<circle cx="109.1" cy="200.0" r="3.1"/>
<circle cx="101.1" cy="200.3" r="3.1"/>
<circle cx="141.0" cy="197.9" r="3.1"/>
<circle cx="106.7" cy="197.2" r="3.1"/>
<circle cx="148.3" cy="198.4" r="3.1"/>
<circle cx="143.9" cy="198.0" r="3.1"/>
<circle cx="124.6" cy="198.5" r="3.1"/>
<circle cx="124.6" cy="198.8" r="3.1"/>
<circle cx="137.1" cy="201.5" r="3.1"/>
<circle cx="119.8" cy="195.0" r="3.1"/>
<circle cx="110.9" cy="195.0" r="3.1"/>
<circle cx="109.1" cy="203.4" r="3.1"/>
<circle cx="112.7" cy="193.6" r="3.1"/>
<circle cx="129.1" cy="197.8" r="3.1"/>
<circle cx="137.3" cy="198.4" r="3.1"/>
<circle cx="154.7" cy="195.8" r="3.1"/>
<circle cx="126.5" cy="196.5" r="3.1"/>
<circle cx="113.9" cy="192.8" r="3.1"/>
<circle cx="133.0" cy="192.8" r="3.1"/>
<circle cx="128.8" cy="199.3" r="3.1"/>
<circle cx="129.4" cy="193.1" r="3.1"/>
<circle cx="136.4" cy="195.8" r="3.1"/>
<circle cx="129.2" cy="196.7" r="3.1"/>
<circle cx="156.0" cy="196.1" r="3.1"/>
<circle cx="118.7" cy="198.8" r="3.1"/>
<circle cx="97.2" cy="196.4" r="3.1"/>
<circle cx="118.6" cy="198.6" r="3.1"/>
<circle cx="116.3" cy="203.3" r="3.1"/>
<circle cx="155.7" cy="201.6" r="3.1"/>
<circle cx="122.0" cy="199.8" r="3.1"/>
<circle cx="158.5" cy="203.3" r="3.1"/>
<circle cx="134.1" cy="196.3" r="3.1"/>
<circle cx="142.4" cy="200.3" r="3.1"/>
<circle cx="124.0" cy="197.5" r="3.1"/>
<circle cx="99.5" cy="193.4" r="3.1"/>
<circle cx="100.7" cy="198.8" r="3.1"/>
<circle cx="126.2" cy="195.7" r="3.1"/>
<circle cx="118.4" cy="202.2" r="3.1"/>
<circle cx="102.1" cy="196.6" r="3.1"/>
<circle cx="101.8" cy="203.9" r="3.1"/>
<circle cx="115.9" cy="202.2" r="3.1"/>
<circle cx="135.5" cy="195.9" r="3.1"/>
<circle cx="133.3" cy="198.5" r="3.1"/>
<circle cx="130.8" cy="198.5" r="3.1"/>
<circle cx="133.3" cy="199.7" r="3.1"/>
<circle cx="109.3" cy="200.2" r="3.1"/>
<circle cx="109.0" cy="193.9" r="3.1"/>
<circle cx="115.8" cy="195.2" r="3.1"/>
<circle cx="110.8" cy="194.6" r="3.1"/>
<circle cx="136.9" cy="200.5" r="3.1"/>
<circle cx="111.4" cy="201.9" r="3.1"/>
<circle cx="120.8" cy="195.6" r="3.1"/>
<circle cx="104.8" cy="199.1" r="3.1"/>
<circle cx="120.6" cy="198.6" r="3.1"/>
<circle cx="120.8" cy="194.6" r="3.1"/>
<circle cx="115.3" cy="195.7" r="3.1"/>
<circle cx="124.8" cy="194.5" r="3.1"/>
<circle cx="160.2" cy="197.1" r="3.1"/>
<circle cx="138.4" cy="198.9" r="3.1"/>
<circle cx="109.0" cy="198.5" r="3.1"/>
<circle cx="115.0" cy="196.7" r="3.1"/>
<circle cx="121.4" cy="191.9" r="3.1"/>
<circle cx="146.2" cy="199.5" r="3.1"/>
<circle cx="119.6" cy="202.1" r="3.1"/>
<circle cx="126.6" cy="195.2" r="3.1"/>
<circle cx="120.8" cy="196.1" r="3.1"/>
<circle cx="118.0" cy="194.8" r="3.1"/>
<circle cx="120.8" cy="200.0" r="3.1"/>
<circle cx="128.3" cy="203.0" r="3.1"/>
<circle cx="132.2" cy="199.0" r="3.1"/>
<circle cx="125.5" cy="199.4" r="3.1"/>
<circle cx="119.2" cy="193.8" r="3.1"/>
<circle cx="103.4" cy="192.3" r="3.1"/>
<circle cx="117.5" cy="198.1" r="3.1"/>
<circle cx="129.6" cy="201.2" r="3.1"/>
<circle cx="113.8" cy="191.2" r="3.1"/>
<circle cx="109.8" cy="197.6" r="3.1"/>
<circle cx="102.4" cy="203.8" r="3.1"/>
<circle cx="140.3" cy="195.6" r="3.1"/>
<circle cx="113.1" cy="198.0" r="3.1"/>
<circle cx="125.8" cy="198.4" r="3.1"/>
<circle cx="101.5" cy="194.7" r="3.1"/>
<circle cx="145.1" cy="197.6" r="3.1"/>
<circle cx="139.3" cy="197.7" r="3.1"/>
<circle cx="126.0" cy="198.6" r="3.1"/>
<circle cx="117.0" cy="201.4" r="3.1"/>
<circle cx="136.2" cy="197.6" r="3.1"/>
<circle cx="124.5" cy="202.6" r="3.1"/>
<circle cx="105.4" cy="200.3" r="3.1"/>
<circle cx="141.3" cy="202.6" r="3.1"/>
<circle cx="146.9" cy="195.4" r="3.1"/>
<circle cx="136.1" cy="196.7" r="3.1"/>
<circle cx="136.2" cy="198.3" r="3.1"/>
<circle cx="137.3" cy="195.8" r="3.1"/>
<circle cx="125.0" cy="199.4" r="3.1"/>
<circle cx="131.4" cy="200.6" r="3.1"/>
<circle cx="153.5" cy="195.0" r="3.1"/>
<circle cx="123.4" cy="192.8" r="3.1"/>
<circle cx="132.7" cy="202.6" r="3.1"/>
<circle cx="125.4" cy="201.4" r="3.1"/>
<circle cx="157.1" cy="199.1" r="3.1"/>
<circle cx="137.8" cy="200.7" r="3.1"/>
<circle cx="109.2" cy="194.1" r="3.1"/>
<circle cx="115.3" cy="195.2" r="3.1"/>
<circle cx="125.4" cy="197.0" r="3.1"/>
<circle cx="118.5" cy="196.6" r="3.1"/>
<circle cx="113.3" cy="195.3" r="3.1"/>
<circle cx="125.1" cy="197.1" r="3.1"/>
<circle cx="126.8" cy="197.5" r="3.1"/>
<circle cx="123.1" cy="197.9" r="3.1"/>
<circle cx="157.1" cy="204.0" r="3.1"/>
<circle cx="164.5" cy="200.0" r="3.1"/>
<circle cx="150.6" cy="196.5" r="3.1"/>
<circle cx="160.8" cy="197.3" r="3.1"/>
<circle cx="177.3" cy="194.7" r="3.1"/>
<circle cx="154.5" cy="196.5" r="3.1"/>
<circle cx="123.3" cy="194.8" r="3.1"/>
<circle cx="157.2" cy="193.2" r="3.1"/>
<circle cx="172.5" cy="197.3" r="3.1"/>
<circle cx="125.5" cy="198.6" r="3.1"/>
<circle cx="135.9" cy="196.8" r="3.1"/>
<circle cx="153.0" cy="204.0" r="3.1"/>
<circle cx="112.9" cy="198.2" r="3.1"/>
<circle cx="113.0" cy="177.3" r="3.1"/>
<circle cx="119.8" cy="210.2" r="3.1"/>
<circle cx="136.9" cy="207.7" r="3.1"/>
<circle cx="146.6" cy="207.7" r="3.1"/>
<circle cx="101.3" cy="206.2" r="3.1"/>
<circle cx="137.2" cy="209.8" r="3.1"/>
<circle cx="129.9" cy="187.3" r="3.1"/>
<circle cx="91.6" cy="193.4" r="3.1"/>
<circle cx="86.7" cy="201.3" r="3.1"/>
<circle cx="168.5" cy="193.1" r="3.1"/>
<circle cx="175.8" cy="198.0" r="3.1"/>
<circle cx="185.5" cy="194.3" r="3.1"/>
<circle cx="181.9" cy="200.4" r="3.1"/>
<circle cx="191.8" cy="194.0" r="3.1"/>
</g>
<path d="M87 190 H190" stroke="#5e1c22" stroke-width="1.5" fill="none"/>
<path d="M87 205.8 H190" stroke="#5e1c22" stroke-width="1.5" fill="none"/>
<line x1="76.5" y1="198.2" x2="87" y2="198.2" stroke="#111" stroke-width="1.5" stroke-dasharray="2.6,2"/>
<line x1="86" y1="197.7" x2="190" y2="197.5" stroke="#acd47a" stroke-width="2.4"/>
<line x1="86" y1="197.7" x2="190" y2="197.5" stroke="#55923a" stroke-width="1.7" stroke-dasharray="2,2.3"/>
<text x="153.95" y="256" text-anchor="middle" font-size="10.55" font-weight="bold" fill="#161616" stroke="#161616" stroke-width="0.25">HRT-II mean</text>
</g>
<g>
<text transform="translate(55.2,308.45) rotate(-90)" text-anchor="middle" font-size="10.5" font-weight="bold" fill="#161616" stroke="#161616" stroke-width="0.25">HRT-II difference</text>
<path d="M78.5 266 V343.4 H233" stroke="#666" stroke-width="1" fill="none"/>
<path d="M129.60 343.4 v-1.6 M181.10 343.4 v-1.6 M233.00 343.4 v-1.6" stroke="#666" stroke-width="0.8" fill="none"/>
<g font-size="8.5" fill="#383838" stroke="#383838" stroke-width="0.12">
<text x="74.50" y="273.55" text-anchor="end">0.5</text>
<text x="74.50" y="309.05" text-anchor="end">0</text>
<text x="74.50" y="344.75" text-anchor="end">−0.5</text>
<text x="80.20" y="352.25" text-anchor="middle">0</text>
<text x="129.60" y="352.25" text-anchor="middle">1</text>
<text x="181.10" y="352.25" text-anchor="middle">2</text>
<text x="233.00" y="352.25" text-anchor="middle">3</text>
</g>
<polygon points="142.74,316.60 202.50,316.60 202.50,324.60" fill="#9a9a9a"/>
<line x1="78.5" y1="302" x2="200" y2="287.3" stroke="#c03844" stroke-width="1.4" stroke-dasharray="7,7.2"/>
<line x1="78.5" y1="308" x2="202.5" y2="324.6" stroke="#c03844" stroke-width="1.4" stroke-dasharray="7,7.2"/>
<g fill="none" stroke="#2a2a2a" stroke-width="1.0">
<circle cx="86.3" cy="304.1" r="3.1"/>
<circle cx="113.9" cy="304.2" r="3.1"/>
<circle cx="108.8" cy="302.9" r="3.1"/>
<circle cx="106.7" cy="306.8" r="3.1"/>
<circle cx="81.1" cy="302.3" r="3.1"/>
<circle cx="104.5" cy="304.5" r="3.1"/>
<circle cx="122.1" cy="304.8" r="3.1"/>
<circle cx="90.1" cy="303.1" r="3.1"/>
<circle cx="85.3" cy="306.1" r="3.1"/>
<circle cx="108.9" cy="302.2" r="3.1"/>
<circle cx="100.6" cy="303.6" r="3.1"/>
<circle cx="105.0" cy="305.0" r="3.1"/>
<circle cx="86.1" cy="303.0" r="3.1"/>
<circle cx="111.8" cy="303.1" r="3.1"/>
<circle cx="91.1" cy="306.5" r="3.1"/>
<circle cx="112.7" cy="306.0" r="3.1"/>
<circle cx="104.0" cy="305.0" r="3.1"/>
<circle cx="98.5" cy="302.9" r="3.1"/>
<circle cx="123.5" cy="305.7" r="3.1"/>
<circle cx="107.9" cy="306.2" r="3.1"/>
<circle cx="109.9" cy="302.7" r="3.1"/>
<circle cx="100.6" cy="306.0" r="3.1"/>
<circle cx="111.8" cy="307.9" r="3.1"/>
<circle cx="110.3" cy="302.6" r="3.1"/>
<circle cx="102.0" cy="307.1" r="3.1"/>
<circle cx="109.7" cy="304.3" r="3.1"/>
<circle cx="121.6" cy="304.2" r="3.1"/>
<circle cx="115.4" cy="303.2" r="3.1"/>
<circle cx="108.4" cy="307.4" r="3.1"/>
<circle cx="105.1" cy="303.6" r="3.1"/>
<circle cx="126.7" cy="303.0" r="3.1"/>
<circle cx="124.9" cy="304.7" r="3.1"/>
<circle cx="125.3" cy="305.4" r="3.1"/>
<circle cx="121.0" cy="305.7" r="3.1"/>
<circle cx="122.3" cy="303.9" r="3.1"/>
<circle cx="112.5" cy="306.0" r="3.1"/>
<circle cx="125.1" cy="305.5" r="3.1"/>
<circle cx="111.5" cy="307.1" r="3.1"/>
<circle cx="89.8" cy="304.0" r="3.1"/>
<circle cx="102.5" cy="305.6" r="3.1"/>
<circle cx="90.3" cy="306.7" r="3.1"/>
<circle cx="86.4" cy="306.0" r="3.1"/>
<circle cx="84.8" cy="306.2" r="3.1"/>
<circle cx="94.6" cy="306.7" r="3.1"/>
<circle cx="114.7" cy="303.7" r="3.1"/>
<circle cx="88.2" cy="305.8" r="3.1"/>
<circle cx="93.6" cy="304.9" r="3.1"/>
<circle cx="101.8" cy="303.7" r="3.1"/>
<circle cx="118.5" cy="306.1" r="3.1"/>
<circle cx="120.3" cy="303.0" r="3.1"/>
<circle cx="110.5" cy="305.1" r="3.1"/>
<circle cx="87.3" cy="305.9" r="3.1"/>
<circle cx="117.7" cy="302.1" r="3.1"/>
<circle cx="126.4" cy="307.4" r="3.1"/>
<circle cx="124.0" cy="304.8" r="3.1"/>
<circle cx="92.5" cy="305.0" r="3.1"/>
<circle cx="89.7" cy="303.2" r="3.1"/>
<circle cx="124.2" cy="302.5" r="3.1"/>
<circle cx="113.6" cy="307.8" r="3.1"/>
<circle cx="102.3" cy="304.3" r="3.1"/>
<circle cx="120.0" cy="304.5" r="3.1"/>
<circle cx="114.6" cy="308.4" r="3.1"/>
<circle cx="121.5" cy="306.2" r="3.1"/>
<circle cx="125.5" cy="305.5" r="3.1"/>
<circle cx="86.0" cy="302.4" r="3.1"/>
<circle cx="102.6" cy="305.8" r="3.1"/>
<circle cx="122.1" cy="306.8" r="3.1"/>
<circle cx="85.6" cy="304.5" r="3.1"/>
<circle cx="123.8" cy="303.6" r="3.1"/>
<circle cx="85.8" cy="305.4" r="3.1"/>
<circle cx="79.4" cy="303.6" r="3.1"/>
<circle cx="106.3" cy="304.2" r="3.1"/>
<circle cx="82.3" cy="305.5" r="3.1"/>
<circle cx="116.1" cy="305.1" r="3.1"/>
<circle cx="103.8" cy="302.5" r="3.1"/>
<circle cx="102.1" cy="304.1" r="3.1"/>
<circle cx="92.4" cy="308.4" r="3.1"/>
<circle cx="113.4" cy="302.6" r="3.1"/>
<circle cx="126.0" cy="304.2" r="3.1"/>
<circle cx="113.0" cy="304.7" r="3.1"/>
<circle cx="84.1" cy="305.0" r="3.1"/>
<circle cx="89.1" cy="302.1" r="3.1"/>
<circle cx="86.5" cy="306.1" r="3.1"/>
<circle cx="126.9" cy="305.5" r="3.1"/>
<circle cx="90.2" cy="305.8" r="3.1"/>
<circle cx="95.6" cy="304.3" r="3.1"/>
<circle cx="102.1" cy="301.7" r="3.1"/>
<circle cx="102.7" cy="305.3" r="3.1"/>
<circle cx="112.8" cy="305.9" r="3.1"/>
<circle cx="95.6" cy="301.9" r="3.1"/>
<circle cx="83.4" cy="305.2" r="3.1"/>
<circle cx="81.7" cy="302.6" r="3.1"/>
<circle cx="101.2" cy="308.8" r="3.1"/>
<circle cx="127.5" cy="304.9" r="3.1"/>
<circle cx="104.9" cy="305.7" r="3.1"/>
<circle cx="102.1" cy="304.9" r="3.1"/>
<circle cx="120.5" cy="303.3" r="3.1"/>
<circle cx="101.0" cy="306.4" r="3.1"/>
<circle cx="97.6" cy="307.1" r="3.1"/>
<circle cx="94.8" cy="306.1" r="3.1"/>
<circle cx="132.6" cy="300.0" r="3.1"/>
<circle cx="127.3" cy="310.3" r="3.1"/>
<circle cx="125.3" cy="301.9" r="3.1"/>
<circle cx="111.3" cy="310.5" r="3.1"/>
<circle cx="134.3" cy="308.2" r="3.1"/>
<circle cx="135.7" cy="304.5" r="3.1"/>
<circle cx="137.2" cy="310.2" r="3.1"/>
<circle cx="108.3" cy="307.0" r="3.1"/>
<circle cx="108.8" cy="305.3" r="3.1"/>
<circle cx="127.2" cy="307.6" r="3.1"/>
<circle cx="127.6" cy="299.7" r="3.1"/>
<circle cx="139.1" cy="308.4" r="3.1"/>
<circle cx="136.9" cy="304.4" r="3.1"/>
<circle cx="128.8" cy="305.1" r="3.1"/>
<circle cx="106.8" cy="309.2" r="3.1"/>
<circle cx="116.0" cy="305.2" r="3.1"/>
<circle cx="121.5" cy="304.6" r="3.1"/>
<circle cx="117.4" cy="304.8" r="3.1"/>
<circle cx="120.9" cy="306.1" r="3.1"/>
<circle cx="113.3" cy="307.7" r="3.1"/>
<circle cx="127.2" cy="306.9" r="3.1"/>
<circle cx="103.2" cy="305.3" r="3.1"/>
<circle cx="118.8" cy="303.7" r="3.1"/>
<circle cx="114.7" cy="309.2" r="3.1"/>
<circle cx="129.5" cy="299.7" r="3.1"/>
<circle cx="111.8" cy="302.3" r="3.1"/>
<circle cx="120.4" cy="310.3" r="3.1"/>
<circle cx="125.4" cy="304.7" r="3.1"/>
<circle cx="115.4" cy="302.9" r="3.1"/>
<circle cx="138.2" cy="301.9" r="3.1"/>
<circle cx="106.2" cy="310.4" r="3.1"/>
<circle cx="100.6" cy="302.4" r="3.1"/>
<circle cx="123.8" cy="305.0" r="3.1"/>
<circle cx="130.8" cy="308.7" r="3.1"/>
<circle cx="114.9" cy="305.9" r="3.1"/>
<circle cx="140.3" cy="310.6" r="3.1"/>
<circle cx="132.1" cy="296.7" r="3.1"/>
<circle cx="112.3" cy="300.6" r="3.1"/>
<circle cx="113.4" cy="300.9" r="3.1"/>
<circle cx="109.5" cy="298.9" r="3.1"/>
<circle cx="107.1" cy="296.8" r="3.1"/>
<circle cx="112.8" cy="307.5" r="3.1"/>
<circle cx="114.4" cy="308.8" r="3.1"/>
<circle cx="99.7" cy="302.3" r="3.1"/>
<circle cx="135.3" cy="301.5" r="3.1"/>
<circle cx="107.1" cy="303.7" r="3.1"/>
<circle cx="113.5" cy="309.8" r="3.1"/>
<circle cx="111.4" cy="304.1" r="3.1"/>
<circle cx="102.7" cy="307.0" r="3.1"/>
<circle cx="139.0" cy="301.3" r="3.1"/>
<circle cx="122.9" cy="311.4" r="3.1"/>
<circle cx="132.4" cy="298.5" r="3.1"/>
<circle cx="142.4" cy="300.2" r="3.1"/>
<circle cx="104.9" cy="305.4" r="3.1"/>
<circle cx="115.9" cy="313.1" r="3.1"/>
<circle cx="144.3" cy="307.9" r="3.1"/>
<circle cx="103.0" cy="300.0" r="3.1"/>
<circle cx="125.6" cy="299.9" r="3.1"/>
<circle cx="133.9" cy="301.2" r="3.1"/>
<circle cx="118.9" cy="310.0" r="3.1"/>
<circle cx="103.0" cy="301.0" r="3.1"/>
<circle cx="136.0" cy="310.1" r="3.1"/>
<circle cx="104.8" cy="307.3" r="3.1"/>
<circle cx="141.4" cy="286.0" r="3.1"/>
<circle cx="130.0" cy="286.4" r="3.1"/>
<circle cx="147.9" cy="292.0" r="3.1"/>
<circle cx="139.7" cy="294.5" r="3.1"/>
<circle cx="156.0" cy="296.9" r="3.1"/>
<circle cx="151.1" cy="299.4" r="3.1"/>
<circle cx="160.0" cy="300.2" r="3.1"/>
<circle cx="170.6" cy="301.8" r="3.1"/>
<circle cx="173.0" cy="303.4" r="3.1"/>
<circle cx="184.4" cy="304.2" r="3.1"/>
<circle cx="192.5" cy="299.4" r="3.1"/>
<circle cx="194.1" cy="305.8" r="3.1"/>
<circle cx="203.0" cy="308.3" r="3.1"/>
<circle cx="179.5" cy="308.3" r="3.1"/>
<circle cx="165.7" cy="307.5" r="3.1"/>
<circle cx="160.0" cy="310.7" r="3.1"/>
<circle cx="147.9" cy="307.5" r="3.1"/>
<circle cx="149.5" cy="311.5" r="3.1"/>
<circle cx="173.8" cy="312.3" r="3.1"/>
<circle cx="177.9" cy="313.1" r="3.1"/>
<circle cx="162.5" cy="318.0" r="3.1"/>
<circle cx="173.0" cy="318.0" r="3.1"/>
<circle cx="197.4" cy="286.0" r="3.1"/>
<circle cx="133.2" cy="305.8" r="3.1"/>
<circle cx="101.5" cy="291.0" r="3.1"/>
<circle cx="102.2" cy="294.0" r="3.1"/>
<circle cx="121.6" cy="293.4" r="3.1"/>
<circle cx="91.8" cy="316.5" r="3.1"/>
<circle cx="102.8" cy="318.3" r="3.1"/>
<circle cx="83.3" cy="299.5" r="3.1"/>
<circle cx="128.9" cy="295.8" r="3.1"/>
<circle cx="115.0" cy="337.5" r="3.1"/>
<circle cx="143.0" cy="303.0" r="3.1"/>
<circle cx="138.0" cy="313.0" r="3.1"/>
</g>
<path d="M78.5 292.3 H202.5" stroke="#111" stroke-width="1.5" fill="none"/>
<path d="M78.5 316.6 H202.5" stroke="#111" stroke-width="1.5" fill="none"/>
<line x1="78.5" y1="305" x2="203" y2="306.5" stroke="#acd47a" stroke-width="2.4"/>
<line x1="78.5" y1="305" x2="203" y2="306.5" stroke="#55923a" stroke-width="1.7" stroke-dasharray="2,2.3"/>
<text x="155.35" y="362.7" text-anchor="middle" font-size="10.55" font-weight="bold" fill="#161616" stroke="#161616" stroke-width="0.25">HRT-II mean</text>
</g>
<g transform="translate(223.2,0)">
<text transform="translate(56.10000000000002,308.45) rotate(-90)" text-anchor="middle" font-size="10.5" font-weight="bold" fill="#161616" stroke="#161616" stroke-width="0.25">HRT-II difference</text>
<path d="M78.5 266 V343.4 H233" stroke="#666" stroke-width="1" fill="none"/>
<path d="M129.60 343.4 v-1.6 M181.10 343.4 v-1.6 M233.00 343.4 v-1.6" stroke="#666" stroke-width="0.8" fill="none"/>
<g font-size="8.5" fill="#383838" stroke="#383838" stroke-width="0.12">
<text x="74.50" y="273.55" text-anchor="end">0.5</text>
<text x="74.50" y="309.05" text-anchor="end">0</text>
<text x="74.50" y="344.75" text-anchor="end">−0.5</text>
<text x="80.20" y="352.25" text-anchor="middle">0</text>
<text x="129.60" y="352.25" text-anchor="middle">1</text>
<text x="181.10" y="352.25" text-anchor="middle">2</text>
<text x="233.00" y="352.25" text-anchor="middle">3</text>
</g>
<polygon points="142.40,316.60 202.50,316.60 202.50,323.28" fill="#9a9a9a"/>
<line x1="78.5" y1="302.3" x2="200" y2="287.5" stroke="#c03844" stroke-width="1.4" stroke-dasharray="7,7.2"/>
<line x1="78.5" y1="309.5" x2="200" y2="323" stroke="#c03844" stroke-width="1.4" stroke-dasharray="7,7.2"/>
<g fill="none" stroke="#2a2a2a" stroke-width="1.0">
<circle cx="86.3" cy="304.1" r="3.1"/>
<circle cx="113.9" cy="304.2" r="3.1"/>
<circle cx="108.8" cy="302.9" r="3.1"/>
<circle cx="106.7" cy="306.8" r="3.1"/>
<circle cx="81.1" cy="302.3" r="3.1"/>
<circle cx="104.5" cy="304.5" r="3.1"/>
<circle cx="122.1" cy="304.8" r="3.1"/>
<circle cx="90.1" cy="303.1" r="3.1"/>
<circle cx="85.3" cy="306.1" r="3.1"/>
<circle cx="108.9" cy="302.2" r="3.1"/>
<circle cx="100.6" cy="303.6" r="3.1"/>
<circle cx="105.0" cy="305.0" r="3.1"/>
<circle cx="86.1" cy="303.0" r="3.1"/>
<circle cx="111.8" cy="303.1" r="3.1"/>
<circle cx="91.1" cy="306.5" r="3.1"/>
<circle cx="112.7" cy="306.0" r="3.1"/>
<circle cx="104.0" cy="305.0" r="3.1"/>
<circle cx="98.5" cy="302.9" r="3.1"/>
<circle cx="123.5" cy="305.7" r="3.1"/>
<circle cx="107.9" cy="306.2" r="3.1"/>
<circle cx="109.9" cy="302.7" r="3.1"/>
<circle cx="100.6" cy="306.0" r="3.1"/>
<circle cx="111.8" cy="307.9" r="3.1"/>
<circle cx="110.3" cy="302.6" r="3.1"/>
<circle cx="102.0" cy="307.1" r="3.1"/>
<circle cx="109.7" cy="304.3" r="3.1"/>
<circle cx="121.6" cy="304.2" r="3.1"/>
<circle cx="115.4" cy="303.2" r="3.1"/>
<circle cx="108.4" cy="307.4" r="3.1"/>
<circle cx="105.1" cy="303.6" r="3.1"/>
<circle cx="126.7" cy="303.0" r="3.1"/>
<circle cx="124.9" cy="304.7" r="3.1"/>
<circle cx="125.3" cy="305.4" r="3.1"/>
<circle cx="121.0" cy="305.7" r="3.1"/>
<circle cx="122.3" cy="303.9" r="3.1"/>
<circle cx="112.5" cy="306.0" r="3.1"/>
<circle cx="125.1" cy="305.5" r="3.1"/>
<circle cx="111.5" cy="307.1" r="3.1"/>
<circle cx="89.8" cy="304.0" r="3.1"/>
<circle cx="102.5" cy="305.6" r="3.1"/>
<circle cx="90.3" cy="306.7" r="3.1"/>
<circle cx="86.4" cy="306.0" r="3.1"/>
<circle cx="84.8" cy="306.2" r="3.1"/>
<circle cx="94.6" cy="306.7" r="3.1"/>
<circle cx="114.7" cy="303.7" r="3.1"/>
<circle cx="88.2" cy="305.8" r="3.1"/>
<circle cx="93.6" cy="304.9" r="3.1"/>
<circle cx="101.8" cy="303.7" r="3.1"/>
<circle cx="118.5" cy="306.1" r="3.1"/>
<circle cx="120.3" cy="303.0" r="3.1"/>
<circle cx="110.5" cy="305.1" r="3.1"/>
<circle cx="87.3" cy="305.9" r="3.1"/>
<circle cx="117.7" cy="302.1" r="3.1"/>
<circle cx="126.4" cy="307.4" r="3.1"/>
<circle cx="124.0" cy="304.8" r="3.1"/>
<circle cx="92.5" cy="305.0" r="3.1"/>
<circle cx="89.7" cy="303.2" r="3.1"/>
<circle cx="124.2" cy="302.5" r="3.1"/>
<circle cx="113.6" cy="307.8" r="3.1"/>
<circle cx="102.3" cy="304.3" r="3.1"/>
<circle cx="120.0" cy="304.5" r="3.1"/>
<circle cx="114.6" cy="308.4" r="3.1"/>
<circle cx="121.5" cy="306.2" r="3.1"/>
<circle cx="125.5" cy="305.5" r="3.1"/>
<circle cx="86.0" cy="302.4" r="3.1"/>
<circle cx="102.6" cy="305.8" r="3.1"/>
<circle cx="122.1" cy="306.8" r="3.1"/>
<circle cx="85.6" cy="304.5" r="3.1"/>
<circle cx="123.8" cy="303.6" r="3.1"/>
<circle cx="85.8" cy="305.4" r="3.1"/>
<circle cx="79.4" cy="303.6" r="3.1"/>
<circle cx="106.3" cy="304.2" r="3.1"/>
<circle cx="82.3" cy="305.5" r="3.1"/>
<circle cx="116.1" cy="305.1" r="3.1"/>
<circle cx="103.8" cy="302.5" r="3.1"/>
<circle cx="102.1" cy="304.1" r="3.1"/>
<circle cx="92.4" cy="308.4" r="3.1"/>
<circle cx="113.4" cy="302.6" r="3.1"/>
<circle cx="126.0" cy="304.2" r="3.1"/>
<circle cx="113.0" cy="304.7" r="3.1"/>
<circle cx="84.1" cy="305.0" r="3.1"/>
<circle cx="89.1" cy="302.1" r="3.1"/>
<circle cx="86.5" cy="306.1" r="3.1"/>
<circle cx="126.9" cy="305.5" r="3.1"/>
<circle cx="90.2" cy="305.8" r="3.1"/>
<circle cx="95.6" cy="304.3" r="3.1"/>
<circle cx="102.1" cy="301.7" r="3.1"/>
<circle cx="102.7" cy="305.3" r="3.1"/>
<circle cx="112.8" cy="305.9" r="3.1"/>
<circle cx="95.6" cy="301.9" r="3.1"/>
<circle cx="83.4" cy="305.2" r="3.1"/>
<circle cx="81.7" cy="302.6" r="3.1"/>
<circle cx="101.2" cy="308.8" r="3.1"/>
<circle cx="127.5" cy="304.9" r="3.1"/>
<circle cx="104.9" cy="305.7" r="3.1"/>
<circle cx="102.1" cy="304.9" r="3.1"/>
<circle cx="120.5" cy="303.3" r="3.1"/>
<circle cx="101.0" cy="306.4" r="3.1"/>
<circle cx="97.6" cy="307.1" r="3.1"/>
<circle cx="94.8" cy="306.1" r="3.1"/>
<circle cx="132.6" cy="300.0" r="3.1"/>
<circle cx="127.3" cy="310.3" r="3.1"/>
<circle cx="125.3" cy="301.9" r="3.1"/>
<circle cx="111.3" cy="310.5" r="3.1"/>
<circle cx="134.3" cy="308.2" r="3.1"/>
<circle cx="135.7" cy="304.5" r="3.1"/>
<circle cx="137.2" cy="310.2" r="3.1"/>
<circle cx="108.3" cy="307.0" r="3.1"/>
<circle cx="108.8" cy="305.3" r="3.1"/>
<circle cx="127.2" cy="307.6" r="3.1"/>
<circle cx="127.6" cy="299.7" r="3.1"/>
<circle cx="139.1" cy="308.4" r="3.1"/>
<circle cx="136.9" cy="304.4" r="3.1"/>
<circle cx="128.8" cy="305.1" r="3.1"/>
<circle cx="106.8" cy="309.2" r="3.1"/>
<circle cx="116.0" cy="305.2" r="3.1"/>
<circle cx="121.5" cy="304.6" r="3.1"/>
<circle cx="117.4" cy="304.8" r="3.1"/>
<circle cx="120.9" cy="306.1" r="3.1"/>
<circle cx="113.3" cy="307.7" r="3.1"/>
<circle cx="127.2" cy="306.9" r="3.1"/>
<circle cx="103.2" cy="305.3" r="3.1"/>
<circle cx="118.8" cy="303.7" r="3.1"/>
<circle cx="114.7" cy="309.2" r="3.1"/>
<circle cx="129.5" cy="299.7" r="3.1"/>
<circle cx="111.8" cy="302.3" r="3.1"/>
<circle cx="120.4" cy="310.3" r="3.1"/>
<circle cx="125.4" cy="304.7" r="3.1"/>
<circle cx="115.4" cy="302.9" r="3.1"/>
<circle cx="138.2" cy="301.9" r="3.1"/>
<circle cx="106.2" cy="310.4" r="3.1"/>
<circle cx="100.6" cy="302.4" r="3.1"/>
<circle cx="123.8" cy="305.0" r="3.1"/>
<circle cx="130.8" cy="308.7" r="3.1"/>
<circle cx="114.9" cy="305.9" r="3.1"/>
<circle cx="140.3" cy="310.6" r="3.1"/>
<circle cx="132.1" cy="296.7" r="3.1"/>
<circle cx="112.3" cy="300.6" r="3.1"/>
<circle cx="113.4" cy="300.9" r="3.1"/>
<circle cx="109.5" cy="298.9" r="3.1"/>
<circle cx="107.1" cy="296.8" r="3.1"/>
<circle cx="112.8" cy="307.5" r="3.1"/>
<circle cx="114.4" cy="308.8" r="3.1"/>
<circle cx="99.7" cy="302.3" r="3.1"/>
<circle cx="135.3" cy="301.5" r="3.1"/>
<circle cx="107.1" cy="303.7" r="3.1"/>
<circle cx="113.5" cy="309.8" r="3.1"/>
<circle cx="111.4" cy="304.1" r="3.1"/>
<circle cx="102.7" cy="307.0" r="3.1"/>
<circle cx="139.0" cy="301.3" r="3.1"/>
<circle cx="122.9" cy="311.4" r="3.1"/>
<circle cx="132.4" cy="298.5" r="3.1"/>
<circle cx="142.4" cy="300.2" r="3.1"/>
<circle cx="104.9" cy="305.4" r="3.1"/>
<circle cx="115.9" cy="313.1" r="3.1"/>
<circle cx="144.3" cy="307.9" r="3.1"/>
<circle cx="103.0" cy="300.0" r="3.1"/>
<circle cx="125.6" cy="299.9" r="3.1"/>
<circle cx="133.9" cy="301.2" r="3.1"/>
<circle cx="118.9" cy="310.0" r="3.1"/>
<circle cx="103.0" cy="301.0" r="3.1"/>
<circle cx="136.0" cy="310.1" r="3.1"/>
<circle cx="104.8" cy="307.3" r="3.1"/>
<circle cx="141.4" cy="286.0" r="3.1"/>
<circle cx="130.0" cy="286.4" r="3.1"/>
<circle cx="147.9" cy="292.0" r="3.1"/>
<circle cx="139.7" cy="294.5" r="3.1"/>
<circle cx="156.0" cy="296.9" r="3.1"/>
<circle cx="151.1" cy="299.4" r="3.1"/>
<circle cx="160.0" cy="300.2" r="3.1"/>
<circle cx="170.6" cy="301.8" r="3.1"/>
<circle cx="173.0" cy="303.4" r="3.1"/>
<circle cx="184.4" cy="304.2" r="3.1"/>
<circle cx="192.5" cy="299.4" r="3.1"/>
<circle cx="194.1" cy="305.8" r="3.1"/>
<circle cx="203.0" cy="308.3" r="3.1"/>
<circle cx="179.5" cy="308.3" r="3.1"/>
<circle cx="165.7" cy="307.5" r="3.1"/>
<circle cx="160.0" cy="310.7" r="3.1"/>
<circle cx="147.9" cy="307.5" r="3.1"/>
<circle cx="149.5" cy="311.5" r="3.1"/>
<circle cx="173.8" cy="312.3" r="3.1"/>
<circle cx="177.9" cy="313.1" r="3.1"/>
<circle cx="162.5" cy="318.0" r="3.1"/>
<circle cx="173.0" cy="318.0" r="3.1"/>
<circle cx="197.4" cy="286.0" r="3.1"/>
<circle cx="133.2" cy="305.8" r="3.1"/>
<circle cx="101.5" cy="291.0" r="3.1"/>
<circle cx="102.2" cy="294.0" r="3.1"/>
<circle cx="121.6" cy="293.4" r="3.1"/>
<circle cx="91.8" cy="316.5" r="3.1"/>
<circle cx="102.8" cy="318.3" r="3.1"/>
<circle cx="83.3" cy="299.5" r="3.1"/>
<circle cx="128.9" cy="295.8" r="3.1"/>
<circle cx="115.0" cy="337.5" r="3.1"/>
<circle cx="143.0" cy="303.0" r="3.1"/>
<circle cx="138.0" cy="313.0" r="3.1"/>
</g>
<path d="M78.5 292.3 H202.5" stroke="#111" stroke-width="1.5" fill="none"/>
<path d="M78.5 316.6 H202.5" stroke="#111" stroke-width="1.5" fill="none"/>
<line x1="78.5" y1="305" x2="203" y2="305.8" stroke="#acd47a" stroke-width="2.4"/>
<line x1="78.5" y1="305" x2="203" y2="305.8" stroke="#55923a" stroke-width="1.7" stroke-dasharray="2,2.3"/>
<text x="155.35" y="362.7" text-anchor="middle" font-size="10.55" font-weight="bold" fill="#161616" stroke="#161616" stroke-width="0.25">HRT-II mean</text>
</g>
<g>
<text transform="translate(55.2,415.25) rotate(-90)" text-anchor="middle" font-size="10.5" font-weight="bold" fill="#161616" stroke="#161616" stroke-width="0.25">HRT-II difference</text>
<path d="M79.3 374.4 V450.8 H234.5" stroke="#666" stroke-width="1" fill="none"/>
<path d="M156.40 450.8 v-1.6 M233.40 450.8 v-1.6" stroke="#666" stroke-width="0.8" fill="none"/>
<g font-size="8.5" fill="#383838" stroke="#383838" stroke-width="0.12">
<text x="74.60" y="396.85" text-anchor="end">0.2</text>
<text x="74.60" y="415.65" text-anchor="end">0</text>
<text x="74.60" y="435.15" text-anchor="end">−0.2</text>
<text x="74.60" y="450.95" text-anchor="end">−0.4</text>
<text x="81.50" y="459.65" text-anchor="middle">0</text>
<text x="156.40" y="459.65" text-anchor="middle">0.5</text>
<text x="233.40" y="459.65" text-anchor="middle">1</text>
</g>
<polygon points="121.78,419.60 234.50,419.60 234.50,426.50" fill="#9a9a9a"/>
<g fill="none" stroke="#2a2a2a" stroke-width="1.0">
<circle cx="117.2" cy="409.6" r="3.1"/>
<circle cx="107.7" cy="413.2" r="3.1"/>
<circle cx="87.4" cy="414.6" r="3.1"/>
<circle cx="83.8" cy="413.6" r="3.1"/>
<circle cx="93.9" cy="415.2" r="3.1"/>
<circle cx="83.6" cy="410.1" r="3.1"/>
<circle cx="82.2" cy="413.0" r="3.1"/>
<circle cx="80.0" cy="415.7" r="3.1"/>
<circle cx="87.8" cy="413.1" r="3.1"/>
<circle cx="99.4" cy="413.0" r="3.1"/>
<circle cx="86.2" cy="409.9" r="3.1"/>
<circle cx="107.2" cy="414.0" r="3.1"/>
<circle cx="95.2" cy="412.9" r="3.1"/>
<circle cx="111.3" cy="410.1" r="3.1"/>
<circle cx="88.7" cy="410.8" r="3.1"/>
<circle cx="115.9" cy="414.1" r="3.1"/>
<circle cx="103.1" cy="411.0" r="3.1"/>
<circle cx="90.0" cy="412.6" r="3.1"/>
<circle cx="113.9" cy="412.1" r="3.1"/>
<circle cx="99.6" cy="412.0" r="3.1"/>
<circle cx="97.8" cy="410.9" r="3.1"/>
<circle cx="84.7" cy="411.2" r="3.1"/>
<circle cx="82.9" cy="413.1" r="3.1"/>
<circle cx="114.9" cy="415.1" r="3.1"/>
<circle cx="106.3" cy="414.3" r="3.1"/>
<circle cx="117.5" cy="413.0" r="3.1"/>
<circle cx="101.0" cy="412.8" r="3.1"/>
<circle cx="90.4" cy="409.6" r="3.1"/>
<circle cx="100.4" cy="410.9" r="3.1"/>
<circle cx="110.9" cy="411.4" r="3.1"/>
<circle cx="96.3" cy="412.4" r="3.1"/>
<circle cx="96.4" cy="411.7" r="3.1"/>
<circle cx="80.7" cy="410.2" r="3.1"/>
<circle cx="100.2" cy="409.5" r="3.1"/>
<circle cx="101.1" cy="411.5" r="3.1"/>
<circle cx="94.1" cy="411.5" r="3.1"/>
<circle cx="101.6" cy="411.3" r="3.1"/>
<circle cx="97.6" cy="411.0" r="3.1"/>
<circle cx="91.9" cy="409.9" r="3.1"/>
<circle cx="91.8" cy="411.5" r="3.1"/>
<circle cx="105.7" cy="413.7" r="3.1"/>
<circle cx="117.2" cy="410.6" r="3.1"/>
<circle cx="91.1" cy="413.4" r="3.1"/>
<circle cx="93.2" cy="411.8" r="3.1"/>
<circle cx="110.9" cy="414.8" r="3.1"/>
<circle cx="113.0" cy="412.9" r="3.1"/>
<circle cx="115.8" cy="411.7" r="3.1"/>
<circle cx="92.0" cy="410.9" r="3.1"/>
<circle cx="103.6" cy="412.8" r="3.1"/>
<circle cx="113.4" cy="412.6" r="3.1"/>
<circle cx="103.4" cy="413.4" r="3.1"/>
<circle cx="90.3" cy="414.0" r="3.1"/>
<circle cx="112.9" cy="411.7" r="3.1"/>
<circle cx="108.0" cy="415.2" r="3.1"/>
<circle cx="91.4" cy="412.4" r="3.1"/>
<circle cx="94.6" cy="414.6" r="3.1"/>
<circle cx="102.2" cy="410.9" r="3.1"/>
<circle cx="95.4" cy="415.2" r="3.1"/>
<circle cx="84.3" cy="413.0" r="3.1"/>
<circle cx="100.3" cy="415.3" r="3.1"/>
<circle cx="95.5" cy="407.4" r="3.1"/>
<circle cx="119.4" cy="415.1" r="3.1"/>
<circle cx="107.1" cy="412.7" r="3.1"/>
<circle cx="118.1" cy="409.8" r="3.1"/>
<circle cx="108.0" cy="407.1" r="3.1"/>
<circle cx="95.6" cy="417.6" r="3.1"/>
<circle cx="122.5" cy="412.4" r="3.1"/>
<circle cx="121.5" cy="414.7" r="3.1"/>
<circle cx="138.0" cy="413.5" r="3.1"/>
<circle cx="135.3" cy="407.5" r="3.1"/>
<circle cx="107.7" cy="412.5" r="3.1"/>
<circle cx="133.4" cy="415.6" r="3.1"/>
<circle cx="134.7" cy="412.6" r="3.1"/>
<circle cx="118.8" cy="408.5" r="3.1"/>
<circle cx="104.7" cy="410.2" r="3.1"/>
<circle cx="120.7" cy="408.6" r="3.1"/>
<circle cx="100.4" cy="411.5" r="3.1"/>
<circle cx="109.4" cy="408.9" r="3.1"/>
<circle cx="109.2" cy="409.4" r="3.1"/>
<circle cx="141.5" cy="407.4" r="3.1"/>
<circle cx="97.6" cy="413.6" r="3.1"/>
<circle cx="109.0" cy="417.7" r="3.1"/>
<circle cx="121.1" cy="413.1" r="3.1"/>
<circle cx="142.6" cy="410.3" r="3.1"/>
<circle cx="112.8" cy="410.7" r="3.1"/>
<circle cx="113.8" cy="412.9" r="3.1"/>
<circle cx="127.5" cy="413.8" r="3.1"/>
<circle cx="110.7" cy="407.9" r="3.1"/>
<circle cx="108.7" cy="413.8" r="3.1"/>
<circle cx="117.0" cy="411.2" r="3.1"/>
<circle cx="128.3" cy="414.8" r="3.1"/>
<circle cx="99.9" cy="411.2" r="3.1"/>
<circle cx="128.5" cy="413.3" r="3.1"/>
<circle cx="109.9" cy="415.8" r="3.1"/>
<circle cx="128.1" cy="411.6" r="3.1"/>
<circle cx="132.4" cy="414.7" r="3.1"/>
<circle cx="144.1" cy="407.5" r="3.1"/>
<circle cx="83.2" cy="416.1" r="3.1"/>
<circle cx="121.2" cy="416.9" r="3.1"/>
<circle cx="177.6" cy="408.1" r="3.1"/>
<circle cx="154.5" cy="407.5" r="3.1"/>
<circle cx="176.3" cy="407.9" r="3.1"/>
<circle cx="122.6" cy="405.5" r="3.1"/>
<circle cx="106.7" cy="414.5" r="3.1"/>
<circle cx="169.4" cy="414.1" r="3.1"/>
<circle cx="145.8" cy="413.2" r="3.1"/>
<circle cx="126.1" cy="412.6" r="3.1"/>
<circle cx="134.4" cy="412.0" r="3.1"/>
<circle cx="106.2" cy="412.9" r="3.1"/>
<circle cx="167.7" cy="411.4" r="3.1"/>
<circle cx="107.0" cy="406.0" r="3.1"/>
<circle cx="146.8" cy="413.4" r="3.1"/>
<circle cx="175.6" cy="415.2" r="3.1"/>
<circle cx="101.3" cy="411.8" r="3.1"/>
<circle cx="166.8" cy="414.8" r="3.1"/>
<circle cx="148.7" cy="406.7" r="3.1"/>
<circle cx="126.4" cy="408.7" r="3.1"/>
<circle cx="171.6" cy="412.9" r="3.1"/>
<circle cx="103.6" cy="409.5" r="3.1"/>
<circle cx="133.7" cy="406.6" r="3.1"/>
<circle cx="100.9" cy="402.8" r="3.1"/>
<circle cx="108.7" cy="429.1" r="3.1"/>
<circle cx="125.7" cy="402.1" r="3.1"/>
<circle cx="120.0" cy="404.9" r="3.1"/>
<circle cx="133.5" cy="403.5" r="3.1"/>
<circle cx="122.9" cy="419.8" r="3.1"/>
<circle cx="129.3" cy="424.1" r="3.1"/>
<circle cx="134.2" cy="417.7" r="3.1"/>
<circle cx="144.2" cy="419.8" r="3.1"/>
<circle cx="146.0" cy="418.4" r="3.1"/>
<circle cx="164.3" cy="423.5" r="3.1"/>
<circle cx="172.5" cy="415.4" r="3.1"/>
<circle cx="192.7" cy="409.3" r="3.1"/>
<circle cx="187.7" cy="413.3" r="3.1"/>
<circle cx="184.6" cy="419.4" r="3.1"/>
<circle cx="211.0" cy="421.4" r="3.1"/>
<circle cx="232.3" cy="416.4" r="3.1"/>
<circle cx="157.2" cy="411.3" r="3.1"/>
<circle cx="160.3" cy="416.4" r="3.1"/>
</g>
<path d="M79.3 404.8 H234.5" stroke="#111" stroke-width="1.5" fill="none"/>
<path d="M79.3 419.6 H234.5" stroke="#111" stroke-width="1.5" fill="none"/>
<line x1="79.3" y1="408" x2="234.5" y2="406.8" stroke="#c03844" stroke-width="1.4" stroke-dasharray="7,7.2"/>
<line x1="79.3" y1="417" x2="234.5" y2="426.5" stroke="#c03844" stroke-width="1.4" stroke-dasharray="7,7.2"/>
<line x1="79.3" y1="413" x2="234.5" y2="413" stroke="#111" stroke-width="1.5" stroke-dasharray="2.6,2"/>
<line x1="79.3" y1="412.3" x2="234.5" y2="415.8" stroke="#acd47a" stroke-width="2.4"/>
<line x1="79.3" y1="412.3" x2="234.5" y2="415.8" stroke="#55923a" stroke-width="1.7" stroke-dasharray="2,2.3"/>
<text x="156.40" y="470.4" text-anchor="middle" font-size="10.55" font-weight="bold" fill="#161616" stroke="#161616" stroke-width="0.25">HRT-II mean</text>
</g>
<g transform="translate(222,0)">
<text transform="translate(57.30000000000001,415.25) rotate(-90)" text-anchor="middle" font-size="10.5" font-weight="bold" fill="#161616" stroke="#161616" stroke-width="0.25">HRT-II difference</text>
<path d="M79.3 374.4 V450.8 H234.5" stroke="#666" stroke-width="1" fill="none"/>
<path d="M156.40 450.8 v-1.6 M233.40 450.8 v-1.6" stroke="#666" stroke-width="0.8" fill="none"/>
<g font-size="8.5" fill="#383838" stroke="#383838" stroke-width="0.12">
<text x="74.60" y="396.85" text-anchor="end">0.2</text>
<text x="74.60" y="415.65" text-anchor="end">0</text>
<text x="74.60" y="435.15" text-anchor="end">−0.2</text>
<text x="74.60" y="450.95" text-anchor="end">−0.4</text>
<text x="81.50" y="459.65" text-anchor="middle">0</text>
<text x="156.40" y="459.65" text-anchor="middle">0.5</text>
<text x="233.40" y="459.65" text-anchor="middle">1</text>
</g>
<polygon points="139.90,419.60 234.50,419.60 234.50,426.00" fill="#9a9a9a"/>
<g fill="none" stroke="#2a2a2a" stroke-width="1.0">
<circle cx="117.2" cy="409.6" r="3.1"/>
<circle cx="107.7" cy="413.2" r="3.1"/>
<circle cx="87.4" cy="414.6" r="3.1"/>
<circle cx="83.8" cy="413.6" r="3.1"/>
<circle cx="93.9" cy="415.2" r="3.1"/>
<circle cx="83.6" cy="410.1" r="3.1"/>
<circle cx="82.2" cy="413.0" r="3.1"/>
<circle cx="80.0" cy="415.7" r="3.1"/>
<circle cx="87.8" cy="413.1" r="3.1"/>
<circle cx="99.4" cy="413.0" r="3.1"/>
<circle cx="86.2" cy="409.9" r="3.1"/>
<circle cx="107.2" cy="414.0" r="3.1"/>
<circle cx="95.2" cy="412.9" r="3.1"/>
<circle cx="111.3" cy="410.1" r="3.1"/>
<circle cx="88.7" cy="410.8" r="3.1"/>
<circle cx="115.9" cy="414.1" r="3.1"/>
<circle cx="103.1" cy="411.0" r="3.1"/>
<circle cx="90.0" cy="412.6" r="3.1"/>
<circle cx="113.9" cy="412.1" r="3.1"/>
<circle cx="99.6" cy="412.0" r="3.1"/>
<circle cx="97.8" cy="410.9" r="3.1"/>
<circle cx="84.7" cy="411.2" r="3.1"/>
<circle cx="82.9" cy="413.1" r="3.1"/>
<circle cx="114.9" cy="415.1" r="3.1"/>
<circle cx="106.3" cy="414.3" r="3.1"/>
<circle cx="117.5" cy="413.0" r="3.1"/>
<circle cx="101.0" cy="412.8" r="3.1"/>
<circle cx="90.4" cy="409.6" r="3.1"/>
<circle cx="100.4" cy="410.9" r="3.1"/>
<circle cx="110.9" cy="411.4" r="3.1"/>
<circle cx="96.3" cy="412.4" r="3.1"/>
<circle cx="96.4" cy="411.7" r="3.1"/>
<circle cx="80.7" cy="410.2" r="3.1"/>
<circle cx="100.2" cy="409.5" r="3.1"/>
<circle cx="101.1" cy="411.5" r="3.1"/>
<circle cx="94.1" cy="411.5" r="3.1"/>
<circle cx="101.6" cy="411.3" r="3.1"/>
<circle cx="97.6" cy="411.0" r="3.1"/>
<circle cx="91.9" cy="409.9" r="3.1"/>
<circle cx="91.8" cy="411.5" r="3.1"/>
<circle cx="105.7" cy="413.7" r="3.1"/>
<circle cx="117.2" cy="410.6" r="3.1"/>
<circle cx="91.1" cy="413.4" r="3.1"/>
<circle cx="93.2" cy="411.8" r="3.1"/>
<circle cx="110.9" cy="414.8" r="3.1"/>
<circle cx="113.0" cy="412.9" r="3.1"/>
<circle cx="115.8" cy="411.7" r="3.1"/>
<circle cx="92.0" cy="410.9" r="3.1"/>
<circle cx="103.6" cy="412.8" r="3.1"/>
<circle cx="113.4" cy="412.6" r="3.1"/>
<circle cx="103.4" cy="413.4" r="3.1"/>
<circle cx="90.3" cy="414.0" r="3.1"/>
<circle cx="112.9" cy="411.7" r="3.1"/>
<circle cx="108.0" cy="415.2" r="3.1"/>
<circle cx="91.4" cy="412.4" r="3.1"/>
<circle cx="94.6" cy="414.6" r="3.1"/>
<circle cx="102.2" cy="410.9" r="3.1"/>
<circle cx="95.4" cy="415.2" r="3.1"/>
<circle cx="84.3" cy="413.0" r="3.1"/>
<circle cx="100.3" cy="415.3" r="3.1"/>
<circle cx="95.5" cy="407.4" r="3.1"/>
<circle cx="119.4" cy="415.1" r="3.1"/>
<circle cx="107.1" cy="412.7" r="3.1"/>
<circle cx="118.1" cy="409.8" r="3.1"/>
<circle cx="108.0" cy="407.1" r="3.1"/>
<circle cx="95.6" cy="417.6" r="3.1"/>
<circle cx="122.5" cy="412.4" r="3.1"/>
<circle cx="121.5" cy="414.7" r="3.1"/>
<circle cx="138.0" cy="413.5" r="3.1"/>
<circle cx="135.3" cy="407.5" r="3.1"/>
<circle cx="107.7" cy="412.5" r="3.1"/>
<circle cx="133.4" cy="415.6" r="3.1"/>
<circle cx="134.7" cy="412.6" r="3.1"/>
<circle cx="118.8" cy="408.5" r="3.1"/>
<circle cx="104.7" cy="410.2" r="3.1"/>
<circle cx="120.7" cy="408.6" r="3.1"/>
<circle cx="100.4" cy="411.5" r="3.1"/>
<circle cx="109.4" cy="408.9" r="3.1"/>
<circle cx="109.2" cy="409.4" r="3.1"/>
<circle cx="141.5" cy="407.4" r="3.1"/>
<circle cx="97.6" cy="413.6" r="3.1"/>
<circle cx="109.0" cy="417.7" r="3.1"/>
<circle cx="121.1" cy="413.1" r="3.1"/>
<circle cx="142.6" cy="410.3" r="3.1"/>
<circle cx="112.8" cy="410.7" r="3.1"/>
<circle cx="113.8" cy="412.9" r="3.1"/>
<circle cx="127.5" cy="413.8" r="3.1"/>
<circle cx="110.7" cy="407.9" r="3.1"/>
<circle cx="108.7" cy="413.8" r="3.1"/>
<circle cx="117.0" cy="411.2" r="3.1"/>
<circle cx="128.3" cy="414.8" r="3.1"/>
<circle cx="99.9" cy="411.2" r="3.1"/>
<circle cx="128.5" cy="413.3" r="3.1"/>
<circle cx="109.9" cy="415.8" r="3.1"/>
<circle cx="128.1" cy="411.6" r="3.1"/>
<circle cx="132.4" cy="414.7" r="3.1"/>
<circle cx="144.1" cy="407.5" r="3.1"/>
<circle cx="83.2" cy="416.1" r="3.1"/>
<circle cx="121.2" cy="416.9" r="3.1"/>
<circle cx="177.6" cy="408.1" r="3.1"/>
<circle cx="154.5" cy="407.5" r="3.1"/>
<circle cx="176.3" cy="407.9" r="3.1"/>
<circle cx="122.6" cy="405.5" r="3.1"/>
<circle cx="106.7" cy="414.5" r="3.1"/>
<circle cx="169.4" cy="414.1" r="3.1"/>
<circle cx="145.8" cy="413.2" r="3.1"/>
<circle cx="126.1" cy="412.6" r="3.1"/>
<circle cx="134.4" cy="412.0" r="3.1"/>
<circle cx="106.2" cy="412.9" r="3.1"/>
<circle cx="167.7" cy="411.4" r="3.1"/>
<circle cx="107.0" cy="406.0" r="3.1"/>
<circle cx="146.8" cy="413.4" r="3.1"/>
<circle cx="175.6" cy="415.2" r="3.1"/>
<circle cx="101.3" cy="411.8" r="3.1"/>
<circle cx="166.8" cy="414.8" r="3.1"/>
<circle cx="148.7" cy="406.7" r="3.1"/>
<circle cx="126.4" cy="408.7" r="3.1"/>
<circle cx="171.6" cy="412.9" r="3.1"/>
<circle cx="103.6" cy="409.5" r="3.1"/>
<circle cx="133.7" cy="406.6" r="3.1"/>
<circle cx="100.9" cy="402.8" r="3.1"/>
<circle cx="108.7" cy="429.1" r="3.1"/>
<circle cx="125.7" cy="402.1" r="3.1"/>
<circle cx="120.0" cy="404.9" r="3.1"/>
<circle cx="133.5" cy="403.5" r="3.1"/>
<circle cx="122.9" cy="419.8" r="3.1"/>
<circle cx="129.3" cy="424.1" r="3.1"/>
<circle cx="134.2" cy="417.7" r="3.1"/>
<circle cx="144.2" cy="419.8" r="3.1"/>
<circle cx="146.0" cy="418.4" r="3.1"/>
<circle cx="164.3" cy="423.5" r="3.1"/>
<circle cx="172.5" cy="415.4" r="3.1"/>
<circle cx="192.7" cy="409.3" r="3.1"/>
<circle cx="187.7" cy="413.3" r="3.1"/>
<circle cx="184.6" cy="419.4" r="3.1"/>
<circle cx="211.0" cy="421.4" r="3.1"/>
<circle cx="232.3" cy="416.4" r="3.1"/>
<circle cx="157.2" cy="411.3" r="3.1"/>
<circle cx="160.3" cy="416.4" r="3.1"/>
</g>
<path d="M79.3 404.8 H234.5" stroke="#111" stroke-width="1.5" fill="none"/>
<path d="M79.3 419.6 H234.5" stroke="#111" stroke-width="1.5" fill="none"/>
<line x1="79.3" y1="408" x2="234.5" y2="406.5" stroke="#c03844" stroke-width="1.4" stroke-dasharray="7,7.2"/>
<line x1="79.3" y1="415.5" x2="234.5" y2="426" stroke="#c03844" stroke-width="1.4" stroke-dasharray="7,7.2"/>
<line x1="79.3" y1="413" x2="234.5" y2="413" stroke="#111" stroke-width="1.5" stroke-dasharray="2.6,2"/>
<line x1="79.3" y1="412.3" x2="234.5" y2="416.3" stroke="#acd47a" stroke-width="2.4"/>
<line x1="79.3" y1="412.3" x2="234.5" y2="416.3" stroke="#55923a" stroke-width="1.7" stroke-dasharray="2,2.3"/>
<text x="156.40" y="470.4" text-anchor="middle" font-size="10.55" font-weight="bold" fill="#161616" stroke="#161616" stroke-width="0.25">HRT-II mean</text>
</g>
<g>
<text transform="translate(55.2,523.35) rotate(-90)" text-anchor="middle" font-size="10.5" font-weight="bold" fill="#161616" stroke="#161616" stroke-width="0.25">HRT-II difference</text>
<path d="M78.5 482.5 V564.5 H239.2" stroke="#666" stroke-width="1" fill="none"/>
<path d="M131.20 564.5 v-1.6 M185.10 564.5 v-1.6" stroke="#666" stroke-width="0.8" fill="none"/>
<g font-size="8.5" fill="#383838" stroke="#383838" stroke-width="0.12">
<text x="74.80" y="488.35" text-anchor="end">0.2</text>
<text x="74.80" y="525.75" text-anchor="end">0</text>
<text x="74.80" y="562.55" text-anchor="end">−0.2</text>
<text x="80.00" y="573.35" text-anchor="middle">0</text>
<text x="131.20" y="573.35" text-anchor="middle">0.2</text>
<text x="185.10" y="573.35" text-anchor="middle">0.4</text>
</g>
<g fill="none" stroke="#2a2a2a" stroke-width="1.0">
<circle cx="165.6" cy="529.1" r="3.1"/>
<circle cx="121.7" cy="515.8" r="3.1"/>
<circle cx="127.8" cy="520.2" r="3.1"/>
<circle cx="109.0" cy="512.4" r="3.1"/>
<circle cx="118.0" cy="524.9" r="3.1"/>
<circle cx="147.3" cy="520.8" r="3.1"/>
<circle cx="127.8" cy="515.6" r="3.1"/>
<circle cx="142.9" cy="513.5" r="3.1"/>
<circle cx="131.5" cy="519.1" r="3.1"/>
<circle cx="145.7" cy="529.9" r="3.1"/>
<circle cx="132.6" cy="515.6" r="3.1"/>
<circle cx="123.5" cy="524.1" r="3.1"/>
<circle cx="118.8" cy="520.2" r="3.1"/>
<circle cx="143.9" cy="521.5" r="3.1"/>
<circle cx="156.1" cy="524.7" r="3.1"/>
<circle cx="132.9" cy="518.7" r="3.1"/>
<circle cx="163.4" cy="512.1" r="3.1"/>
<circle cx="158.4" cy="530.9" r="3.1"/>
<circle cx="156.3" cy="524.8" r="3.1"/>
<circle cx="140.9" cy="514.0" r="3.1"/>
<circle cx="167.8" cy="513.1" r="3.1"/>
<circle cx="118.8" cy="521.0" r="3.1"/>
<circle cx="130.7" cy="522.4" r="3.1"/>
<circle cx="116.7" cy="526.9" r="3.1"/>
<circle cx="113.1" cy="529.5" r="3.1"/>
<circle cx="117.2" cy="533.2" r="3.1"/>
<circle cx="122.6" cy="523.3" r="3.1"/>
<circle cx="112.3" cy="515.9" r="3.1"/>
<circle cx="145.8" cy="516.2" r="3.1"/>
<circle cx="140.8" cy="513.6" r="3.1"/>
<circle cx="126.6" cy="520.6" r="3.1"/>
<circle cx="158.6" cy="518.6" r="3.1"/>
<circle cx="161.4" cy="511.8" r="3.1"/>
<circle cx="158.4" cy="515.6" r="3.1"/>
<circle cx="152.0" cy="521.8" r="3.1"/>
<circle cx="142.7" cy="535.3" r="3.1"/>
<circle cx="119.9" cy="524.9" r="3.1"/>
<circle cx="137.1" cy="520.1" r="3.1"/>
<circle cx="142.7" cy="523.4" r="3.1"/>
<circle cx="143.4" cy="525.7" r="3.1"/>
<circle cx="126.4" cy="515.2" r="3.1"/>
<circle cx="141.9" cy="530.6" r="3.1"/>
<circle cx="158.6" cy="520.5" r="3.1"/>
<circle cx="108.7" cy="521.1" r="3.1"/>
<circle cx="117.8" cy="518.9" r="3.1"/>
<circle cx="127.9" cy="523.7" r="3.1"/>
<circle cx="120.7" cy="524.8" r="3.1"/>
<circle cx="121.8" cy="522.6" r="3.1"/>
<circle cx="113.0" cy="533.0" r="3.1"/>
<circle cx="120.0" cy="529.1" r="3.1"/>
<circle cx="121.7" cy="524.9" r="3.1"/>
<circle cx="139.8" cy="522.9" r="3.1"/>
<circle cx="137.3" cy="526.4" r="3.1"/>
<circle cx="112.3" cy="528.2" r="3.1"/>
<circle cx="131.7" cy="517.7" r="3.1"/>
<circle cx="141.0" cy="529.0" r="3.1"/>
<circle cx="131.6" cy="520.4" r="3.1"/>
<circle cx="121.0" cy="515.3" r="3.1"/>
<circle cx="144.8" cy="529.4" r="3.1"/>
<circle cx="124.5" cy="525.1" r="3.1"/>
<circle cx="129.3" cy="520.8" r="3.1"/>
<circle cx="154.6" cy="528.1" r="3.1"/>
<circle cx="108.7" cy="519.3" r="3.1"/>
<circle cx="141.6" cy="521.3" r="3.1"/>
<circle cx="128.9" cy="523.2" r="3.1"/>
<circle cx="160.9" cy="526.1" r="3.1"/>
<circle cx="118.0" cy="523.4" r="3.1"/>
<circle cx="155.9" cy="519.5" r="3.1"/>
<circle cx="148.5" cy="530.8" r="3.1"/>
<circle cx="108.7" cy="519.9" r="3.1"/>
<circle cx="156.0" cy="523.7" r="3.1"/>
<circle cx="137.4" cy="515.4" r="3.1"/>
<circle cx="157.3" cy="530.4" r="3.1"/>
<circle cx="112.1" cy="526.8" r="3.1"/>
<circle cx="126.8" cy="525.5" r="3.1"/>
<circle cx="148.3" cy="529.4" r="3.1"/>
<circle cx="165.7" cy="519.5" r="3.1"/>
<circle cx="142.1" cy="519.7" r="3.1"/>
<circle cx="117.6" cy="519.8" r="3.1"/>
<circle cx="163.8" cy="521.0" r="3.1"/>
<circle cx="126.2" cy="525.8" r="3.1"/>
<circle cx="120.5" cy="520.1" r="3.1"/>
<circle cx="122.8" cy="527.5" r="3.1"/>
<circle cx="152.7" cy="512.9" r="3.1"/>
<circle cx="142.5" cy="525.2" r="3.1"/>
<circle cx="110.0" cy="526.0" r="3.1"/>
<circle cx="163.8" cy="529.0" r="3.1"/>
<circle cx="108.0" cy="529.2" r="3.1"/>
<circle cx="125.1" cy="519.7" r="3.1"/>
<circle cx="112.2" cy="520.4" r="3.1"/>
<circle cx="161.8" cy="522.4" r="3.1"/>
<circle cx="150.3" cy="523.2" r="3.1"/>
<circle cx="167.4" cy="521.1" r="3.1"/>
<circle cx="133.1" cy="522.2" r="3.1"/>
<circle cx="144.6" cy="522.8" r="3.1"/>
<circle cx="152.5" cy="528.6" r="3.1"/>
<circle cx="147.5" cy="529.6" r="3.1"/>
<circle cx="139.1" cy="510.2" r="3.1"/>
<circle cx="166.9" cy="527.8" r="3.1"/>
<circle cx="148.5" cy="527.3" r="3.1"/>
<circle cx="163.7" cy="516.5" r="3.1"/>
<circle cx="161.5" cy="523.8" r="3.1"/>
<circle cx="136.2" cy="528.5" r="3.1"/>
<circle cx="124.2" cy="524.9" r="3.1"/>
<circle cx="147.4" cy="523.3" r="3.1"/>
<circle cx="127.0" cy="521.0" r="3.1"/>
<circle cx="162.0" cy="526.3" r="3.1"/>
<circle cx="131.3" cy="513.1" r="3.1"/>
<circle cx="165.3" cy="528.8" r="3.1"/>
<circle cx="140.6" cy="513.9" r="3.1"/>
<circle cx="146.5" cy="523.7" r="3.1"/>
<circle cx="108.9" cy="523.7" r="3.1"/>
<circle cx="142.5" cy="521.7" r="3.1"/>
<circle cx="155.3" cy="523.0" r="3.1"/>
<circle cx="137.8" cy="527.2" r="3.1"/>
<circle cx="149.9" cy="520.2" r="3.1"/>
<circle cx="132.8" cy="524.8" r="3.1"/>
<circle cx="129.6" cy="525.8" r="3.1"/>
<circle cx="109.7" cy="526.6" r="3.1"/>
<circle cx="122.4" cy="518.9" r="3.1"/>
<circle cx="156.0" cy="532.4" r="3.1"/>
<circle cx="135.0" cy="522.9" r="3.1"/>
<circle cx="110.4" cy="532.8" r="3.1"/>
<circle cx="125.0" cy="526.0" r="3.1"/>
<circle cx="119.9" cy="529.6" r="3.1"/>
<circle cx="158.9" cy="513.2" r="3.1"/>
<circle cx="115.3" cy="533.3" r="3.1"/>
<circle cx="121.8" cy="524.3" r="3.1"/>
<circle cx="119.0" cy="522.9" r="3.1"/>
<circle cx="143.3" cy="513.7" r="3.1"/>
<circle cx="122.0" cy="519.7" r="3.1"/>
<circle cx="143.9" cy="527.7" r="3.1"/>
<circle cx="122.1" cy="522.1" r="3.1"/>
<circle cx="119.1" cy="530.7" r="3.1"/>
<circle cx="137.6" cy="520.8" r="3.1"/>
<circle cx="137.7" cy="526.2" r="3.1"/>
<circle cx="150.0" cy="524.6" r="3.1"/>
<circle cx="123.1" cy="510.1" r="3.1"/>
<circle cx="119.0" cy="521.5" r="3.1"/>
<circle cx="136.3" cy="523.4" r="3.1"/>
<circle cx="157.6" cy="513.1" r="3.1"/>
<circle cx="162.6" cy="518.9" r="3.1"/>
<circle cx="138.6" cy="520.7" r="3.1"/>
<circle cx="163.6" cy="524.1" r="3.1"/>
<circle cx="119.8" cy="527.2" r="3.1"/>
<circle cx="160.7" cy="525.3" r="3.1"/>
<circle cx="144.5" cy="524.5" r="3.1"/>
<circle cx="151.7" cy="514.1" r="3.1"/>
<circle cx="150.4" cy="527.1" r="3.1"/>
<circle cx="131.4" cy="530.6" r="3.1"/>
<circle cx="145.2" cy="526.5" r="3.1"/>
<circle cx="165.5" cy="522.0" r="3.1"/>
<circle cx="119.7" cy="520.6" r="3.1"/>
<circle cx="126.5" cy="521.9" r="3.1"/>
<circle cx="122.1" cy="517.7" r="3.1"/>
<circle cx="119.2" cy="521.7" r="3.1"/>
<circle cx="150.5" cy="529.3" r="3.1"/>
<circle cx="158.9" cy="528.5" r="3.1"/>
<circle cx="166.4" cy="526.9" r="3.1"/>
<circle cx="131.7" cy="528.6" r="3.1"/>
<circle cx="157.5" cy="528.6" r="3.1"/>
<circle cx="110.4" cy="526.9" r="3.1"/>
<circle cx="129.9" cy="525.1" r="3.1"/>
<circle cx="114.9" cy="527.8" r="3.1"/>
<circle cx="165.3" cy="525.7" r="3.1"/>
<circle cx="142.0" cy="520.1" r="3.1"/>
<circle cx="116.5" cy="523.5" r="3.1"/>
<circle cx="162.9" cy="523.5" r="3.1"/>
<circle cx="139.9" cy="529.8" r="3.1"/>
<circle cx="112.3" cy="521.7" r="3.1"/>
<circle cx="130.2" cy="520.7" r="3.1"/>
<circle cx="112.8" cy="525.4" r="3.1"/>
<circle cx="149.4" cy="532.0" r="3.1"/>
<circle cx="122.3" cy="512.8" r="3.1"/>
<circle cx="145.0" cy="522.3" r="3.1"/>
<circle cx="162.8" cy="533.8" r="3.1"/>
<circle cx="108.7" cy="526.9" r="3.1"/>
<circle cx="166.9" cy="533.5" r="3.1"/>
<circle cx="158.9" cy="529.8" r="3.1"/>
<circle cx="154.2" cy="525.7" r="3.1"/>
<circle cx="142.2" cy="513.0" r="3.1"/>
<circle cx="111.5" cy="519.9" r="3.1"/>
<circle cx="142.2" cy="529.8" r="3.1"/>
<circle cx="129.6" cy="521.3" r="3.1"/>
<circle cx="116.1" cy="529.3" r="3.1"/>
<circle cx="165.3" cy="517.1" r="3.1"/>
<circle cx="165.9" cy="518.5" r="3.1"/>
<circle cx="157.0" cy="512.0" r="3.1"/>
<circle cx="152.6" cy="515.1" r="3.1"/>
<circle cx="155.0" cy="527.0" r="3.1"/>
<circle cx="121.3" cy="525.2" r="3.1"/>
<circle cx="130.4" cy="513.7" r="3.1"/>
<circle cx="134.7" cy="525.3" r="3.1"/>
<circle cx="103.5" cy="521.7" r="3.1"/>
<circle cx="139.9" cy="533.8" r="3.1"/>
<circle cx="173.6" cy="531.6" r="3.1"/>
<circle cx="128.6" cy="516.9" r="3.1"/>
<circle cx="170.7" cy="531.3" r="3.1"/>
<circle cx="82.9" cy="523.7" r="3.1"/>
<circle cx="96.3" cy="525.4" r="3.1"/>
<circle cx="106.6" cy="508.5" r="3.1"/>
<circle cx="102.9" cy="532.2" r="3.1"/>
<circle cx="107.8" cy="538.3" r="3.1"/>
<circle cx="177.8" cy="512.0" r="3.1"/>
<circle cx="182.7" cy="519.3" r="3.1"/>
<circle cx="193.6" cy="521.8" r="3.1"/>
<circle cx="171.7" cy="521.8" r="3.1"/>
<circle cx="128.5" cy="509.1" r="3.1"/>
<circle cx="138.8" cy="537.7" r="3.1"/>
<circle cx="148.5" cy="509.1" r="3.1"/>
<circle cx="131.2" cy="557.8" r="3.1"/>
</g>
<path d="M83.4 510.2 H193.6" stroke="#111" stroke-width="1.5" fill="none"/>
<path d="M83.4 535.9 H193.6" stroke="#111" stroke-width="1.5" fill="none"/>
<line x1="78.5" y1="523" x2="193.6" y2="522.6" stroke="#acd47a" stroke-width="2.4"/>
<line x1="78.5" y1="523" x2="193.6" y2="522.6" stroke="#55923a" stroke-width="1.7" stroke-dasharray="2,2.3"/>
<text x="158.60" y="582.5" text-anchor="middle" font-size="10.55" font-weight="bold" fill="#161616" stroke="#161616" stroke-width="0.25">HRT-II mean</text>
</g>
<g transform="translate(219,-1.5)">
<text transform="translate(60.30000000000001,524.85) rotate(-90)" text-anchor="middle" font-size="10.5" font-weight="bold" fill="#161616" stroke="#161616" stroke-width="0.25">HRT-II difference</text>
<path d="M78.5 482.5 V564.5 H239.2" stroke="#666" stroke-width="1" fill="none"/>
<path d="M131.20 564.5 v-1.6 M185.10 564.5 v-1.6" stroke="#666" stroke-width="0.8" fill="none"/>
<g font-size="8.5" fill="#383838" stroke="#383838" stroke-width="0.12">
<text x="74.80" y="488.35" text-anchor="end">0.2</text>
<text x="74.80" y="525.75" text-anchor="end">0</text>
<text x="74.80" y="562.55" text-anchor="end">−0.2</text>
<text x="80.00" y="573.35" text-anchor="middle">0</text>
<text x="131.20" y="573.35" text-anchor="middle">0.2</text>
<text x="185.10" y="573.35" text-anchor="middle">0.4</text>
</g>
<g fill="none" stroke="#2a2a2a" stroke-width="1.0">
<circle cx="165.6" cy="529.1" r="3.1"/>
<circle cx="121.7" cy="515.8" r="3.1"/>
<circle cx="127.8" cy="520.2" r="3.1"/>
<circle cx="109.0" cy="512.4" r="3.1"/>
<circle cx="118.0" cy="524.9" r="3.1"/>
<circle cx="147.3" cy="520.8" r="3.1"/>
<circle cx="127.8" cy="515.6" r="3.1"/>
<circle cx="142.9" cy="513.5" r="3.1"/>
<circle cx="131.5" cy="519.1" r="3.1"/>
<circle cx="145.7" cy="529.9" r="3.1"/>
<circle cx="132.6" cy="515.6" r="3.1"/>
<circle cx="123.5" cy="524.1" r="3.1"/>
<circle cx="118.8" cy="520.2" r="3.1"/>
<circle cx="143.9" cy="521.5" r="3.1"/>
<circle cx="156.1" cy="524.7" r="3.1"/>
<circle cx="132.9" cy="518.7" r="3.1"/>
<circle cx="163.4" cy="512.1" r="3.1"/>
<circle cx="158.4" cy="530.9" r="3.1"/>
<circle cx="156.3" cy="524.8" r="3.1"/>
<circle cx="140.9" cy="514.0" r="3.1"/>
<circle cx="167.8" cy="513.1" r="3.1"/>
<circle cx="118.8" cy="521.0" r="3.1"/>
<circle cx="130.7" cy="522.4" r="3.1"/>
<circle cx="116.7" cy="526.9" r="3.1"/>
<circle cx="113.1" cy="529.5" r="3.1"/>
<circle cx="117.2" cy="533.2" r="3.1"/>
<circle cx="122.6" cy="523.3" r="3.1"/>
<circle cx="112.3" cy="515.9" r="3.1"/>
<circle cx="145.8" cy="516.2" r="3.1"/>
<circle cx="140.8" cy="513.6" r="3.1"/>
<circle cx="126.6" cy="520.6" r="3.1"/>
<circle cx="158.6" cy="518.6" r="3.1"/>
<circle cx="161.4" cy="511.8" r="3.1"/>
<circle cx="158.4" cy="515.6" r="3.1"/>
<circle cx="152.0" cy="521.8" r="3.1"/>
<circle cx="142.7" cy="535.3" r="3.1"/>
<circle cx="119.9" cy="524.9" r="3.1"/>
<circle cx="137.1" cy="520.1" r="3.1"/>
<circle cx="142.7" cy="523.4" r="3.1"/>
<circle cx="143.4" cy="525.7" r="3.1"/>
<circle cx="126.4" cy="515.2" r="3.1"/>
<circle cx="141.9" cy="530.6" r="3.1"/>
<circle cx="158.6" cy="520.5" r="3.1"/>
<circle cx="108.7" cy="521.1" r="3.1"/>
<circle cx="117.8" cy="518.9" r="3.1"/>
<circle cx="127.9" cy="523.7" r="3.1"/>
<circle cx="120.7" cy="524.8" r="3.1"/>
<circle cx="121.8" cy="522.6" r="3.1"/>
<circle cx="113.0" cy="533.0" r="3.1"/>
<circle cx="120.0" cy="529.1" r="3.1"/>
<circle cx="121.7" cy="524.9" r="3.1"/>
<circle cx="139.8" cy="522.9" r="3.1"/>
<circle cx="137.3" cy="526.4" r="3.1"/>
<circle cx="112.3" cy="528.2" r="3.1"/>
<circle cx="131.7" cy="517.7" r="3.1"/>
<circle cx="141.0" cy="529.0" r="3.1"/>
<circle cx="131.6" cy="520.4" r="3.1"/>
<circle cx="121.0" cy="515.3" r="3.1"/>
<circle cx="144.8" cy="529.4" r="3.1"/>
<circle cx="124.5" cy="525.1" r="3.1"/>
<circle cx="129.3" cy="520.8" r="3.1"/>
<circle cx="154.6" cy="528.1" r="3.1"/>
<circle cx="108.7" cy="519.3" r="3.1"/>
<circle cx="141.6" cy="521.3" r="3.1"/>
<circle cx="128.9" cy="523.2" r="3.1"/>
<circle cx="160.9" cy="526.1" r="3.1"/>
<circle cx="118.0" cy="523.4" r="3.1"/>
<circle cx="155.9" cy="519.5" r="3.1"/>
<circle cx="148.5" cy="530.8" r="3.1"/>
<circle cx="108.7" cy="519.9" r="3.1"/>
<circle cx="156.0" cy="523.7" r="3.1"/>
<circle cx="137.4" cy="515.4" r="3.1"/>
<circle cx="157.3" cy="530.4" r="3.1"/>
<circle cx="112.1" cy="526.8" r="3.1"/>
<circle cx="126.8" cy="525.5" r="3.1"/>
<circle cx="148.3" cy="529.4" r="3.1"/>
<circle cx="165.7" cy="519.5" r="3.1"/>
<circle cx="142.1" cy="519.7" r="3.1"/>
<circle cx="117.6" cy="519.8" r="3.1"/>
<circle cx="163.8" cy="521.0" r="3.1"/>
<circle cx="126.2" cy="525.8" r="3.1"/>
<circle cx="120.5" cy="520.1" r="3.1"/>
<circle cx="122.8" cy="527.5" r="3.1"/>
<circle cx="152.7" cy="512.9" r="3.1"/>
<circle cx="142.5" cy="525.2" r="3.1"/>
<circle cx="110.0" cy="526.0" r="3.1"/>
<circle cx="163.8" cy="529.0" r="3.1"/>
<circle cx="108.0" cy="529.2" r="3.1"/>
<circle cx="125.1" cy="519.7" r="3.1"/>
<circle cx="112.2" cy="520.4" r="3.1"/>
<circle cx="161.8" cy="522.4" r="3.1"/>
<circle cx="150.3" cy="523.2" r="3.1"/>
<circle cx="167.4" cy="521.1" r="3.1"/>
<circle cx="133.1" cy="522.2" r="3.1"/>
<circle cx="144.6" cy="522.8" r="3.1"/>
<circle cx="152.5" cy="528.6" r="3.1"/>
<circle cx="147.5" cy="529.6" r="3.1"/>
<circle cx="139.1" cy="510.2" r="3.1"/>
<circle cx="166.9" cy="527.8" r="3.1"/>
<circle cx="148.5" cy="527.3" r="3.1"/>
<circle cx="163.7" cy="516.5" r="3.1"/>
<circle cx="161.5" cy="523.8" r="3.1"/>
<circle cx="136.2" cy="528.5" r="3.1"/>
<circle cx="124.2" cy="524.9" r="3.1"/>
<circle cx="147.4" cy="523.3" r="3.1"/>
<circle cx="127.0" cy="521.0" r="3.1"/>
<circle cx="162.0" cy="526.3" r="3.1"/>
<circle cx="131.3" cy="513.1" r="3.1"/>
<circle cx="165.3" cy="528.8" r="3.1"/>
<circle cx="140.6" cy="513.9" r="3.1"/>
<circle cx="146.5" cy="523.7" r="3.1"/>
<circle cx="108.9" cy="523.7" r="3.1"/>
<circle cx="142.5" cy="521.7" r="3.1"/>
<circle cx="155.3" cy="523.0" r="3.1"/>
<circle cx="137.8" cy="527.2" r="3.1"/>
<circle cx="149.9" cy="520.2" r="3.1"/>
<circle cx="132.8" cy="524.8" r="3.1"/>
<circle cx="129.6" cy="525.8" r="3.1"/>
<circle cx="109.7" cy="526.6" r="3.1"/>
<circle cx="122.4" cy="518.9" r="3.1"/>
<circle cx="156.0" cy="532.4" r="3.1"/>
<circle cx="135.0" cy="522.9" r="3.1"/>
<circle cx="110.4" cy="532.8" r="3.1"/>
<circle cx="125.0" cy="526.0" r="3.1"/>
<circle cx="119.9" cy="529.6" r="3.1"/>
<circle cx="158.9" cy="513.2" r="3.1"/>
<circle cx="115.3" cy="533.3" r="3.1"/>
<circle cx="121.8" cy="524.3" r="3.1"/>
<circle cx="119.0" cy="522.9" r="3.1"/>
<circle cx="143.3" cy="513.7" r="3.1"/>
<circle cx="122.0" cy="519.7" r="3.1"/>
<circle cx="143.9" cy="527.7" r="3.1"/>
<circle cx="122.1" cy="522.1" r="3.1"/>
<circle cx="119.1" cy="530.7" r="3.1"/>
<circle cx="137.6" cy="520.8" r="3.1"/>
<circle cx="137.7" cy="526.2" r="3.1"/>
<circle cx="150.0" cy="524.6" r="3.1"/>
<circle cx="123.1" cy="510.1" r="3.1"/>
<circle cx="119.0" cy="521.5" r="3.1"/>
<circle cx="136.3" cy="523.4" r="3.1"/>
<circle cx="157.6" cy="513.1" r="3.1"/>
<circle cx="162.6" cy="518.9" r="3.1"/>
<circle cx="138.6" cy="520.7" r="3.1"/>
<circle cx="163.6" cy="524.1" r="3.1"/>
<circle cx="119.8" cy="527.2" r="3.1"/>
<circle cx="160.7" cy="525.3" r="3.1"/>
<circle cx="144.5" cy="524.5" r="3.1"/>
<circle cx="151.7" cy="514.1" r="3.1"/>
<circle cx="150.4" cy="527.1" r="3.1"/>
<circle cx="131.4" cy="530.6" r="3.1"/>
<circle cx="145.2" cy="526.5" r="3.1"/>
<circle cx="165.5" cy="522.0" r="3.1"/>
<circle cx="119.7" cy="520.6" r="3.1"/>
<circle cx="126.5" cy="521.9" r="3.1"/>
<circle cx="122.1" cy="517.7" r="3.1"/>
<circle cx="119.2" cy="521.7" r="3.1"/>
<circle cx="150.5" cy="529.3" r="3.1"/>
<circle cx="158.9" cy="528.5" r="3.1"/>
<circle cx="166.4" cy="526.9" r="3.1"/>
<circle cx="131.7" cy="528.6" r="3.1"/>
<circle cx="157.5" cy="528.6" r="3.1"/>
<circle cx="110.4" cy="526.9" r="3.1"/>
<circle cx="129.9" cy="525.1" r="3.1"/>
<circle cx="114.9" cy="527.8" r="3.1"/>
<circle cx="165.3" cy="525.7" r="3.1"/>
<circle cx="142.0" cy="520.1" r="3.1"/>
<circle cx="116.5" cy="523.5" r="3.1"/>
<circle cx="162.9" cy="523.5" r="3.1"/>
<circle cx="139.9" cy="529.8" r="3.1"/>
<circle cx="112.3" cy="521.7" r="3.1"/>
<circle cx="130.2" cy="520.7" r="3.1"/>
<circle cx="112.8" cy="525.4" r="3.1"/>
<circle cx="149.4" cy="532.0" r="3.1"/>
<circle cx="122.3" cy="512.8" r="3.1"/>
<circle cx="145.0" cy="522.3" r="3.1"/>
<circle cx="162.8" cy="533.8" r="3.1"/>
<circle cx="108.7" cy="526.9" r="3.1"/>
<circle cx="166.9" cy="533.5" r="3.1"/>
<circle cx="158.9" cy="529.8" r="3.1"/>
<circle cx="154.2" cy="525.7" r="3.1"/>
<circle cx="142.2" cy="513.0" r="3.1"/>
<circle cx="111.5" cy="519.9" r="3.1"/>
<circle cx="142.2" cy="529.8" r="3.1"/>
<circle cx="129.6" cy="521.3" r="3.1"/>
<circle cx="116.1" cy="529.3" r="3.1"/>
<circle cx="165.3" cy="517.1" r="3.1"/>
<circle cx="165.9" cy="518.5" r="3.1"/>
<circle cx="157.0" cy="512.0" r="3.1"/>
<circle cx="152.6" cy="515.1" r="3.1"/>
<circle cx="155.0" cy="527.0" r="3.1"/>
<circle cx="121.3" cy="525.2" r="3.1"/>
<circle cx="130.4" cy="513.7" r="3.1"/>
<circle cx="134.7" cy="525.3" r="3.1"/>
<circle cx="103.5" cy="521.7" r="3.1"/>
<circle cx="139.9" cy="533.8" r="3.1"/>
<circle cx="173.6" cy="531.6" r="3.1"/>
<circle cx="128.6" cy="516.9" r="3.1"/>
<circle cx="170.7" cy="531.3" r="3.1"/>
<circle cx="82.9" cy="523.7" r="3.1"/>
<circle cx="96.3" cy="525.4" r="3.1"/>
<circle cx="106.6" cy="508.5" r="3.1"/>
<circle cx="102.9" cy="532.2" r="3.1"/>
<circle cx="107.8" cy="538.3" r="3.1"/>
<circle cx="177.8" cy="512.0" r="3.1"/>
<circle cx="182.7" cy="519.3" r="3.1"/>
<circle cx="193.6" cy="521.8" r="3.1"/>
<circle cx="171.7" cy="521.8" r="3.1"/>
<circle cx="128.5" cy="509.1" r="3.1"/>
<circle cx="138.8" cy="537.7" r="3.1"/>
<circle cx="148.5" cy="509.1" r="3.1"/>
<circle cx="131.2" cy="557.8" r="3.1"/>
</g>
<path d="M83.4 509.2 H193.6" stroke="#111" stroke-width="1.5" fill="none"/>
<path d="M83.4 536.5 H193.6" stroke="#111" stroke-width="1.5" fill="none"/>
<line x1="78.5" y1="523" x2="193.6" y2="522.6" stroke="#acd47a" stroke-width="2.4"/>
<line x1="78.5" y1="523" x2="193.6" y2="522.6" stroke="#55923a" stroke-width="1.7" stroke-dasharray="2,2.3"/>
<text x="158.60" y="582.5" text-anchor="middle" font-size="10.55" font-weight="bold" fill="#161616" stroke="#161616" stroke-width="0.25">HRT-II mean</text>
</g>
</svg></body></html>
